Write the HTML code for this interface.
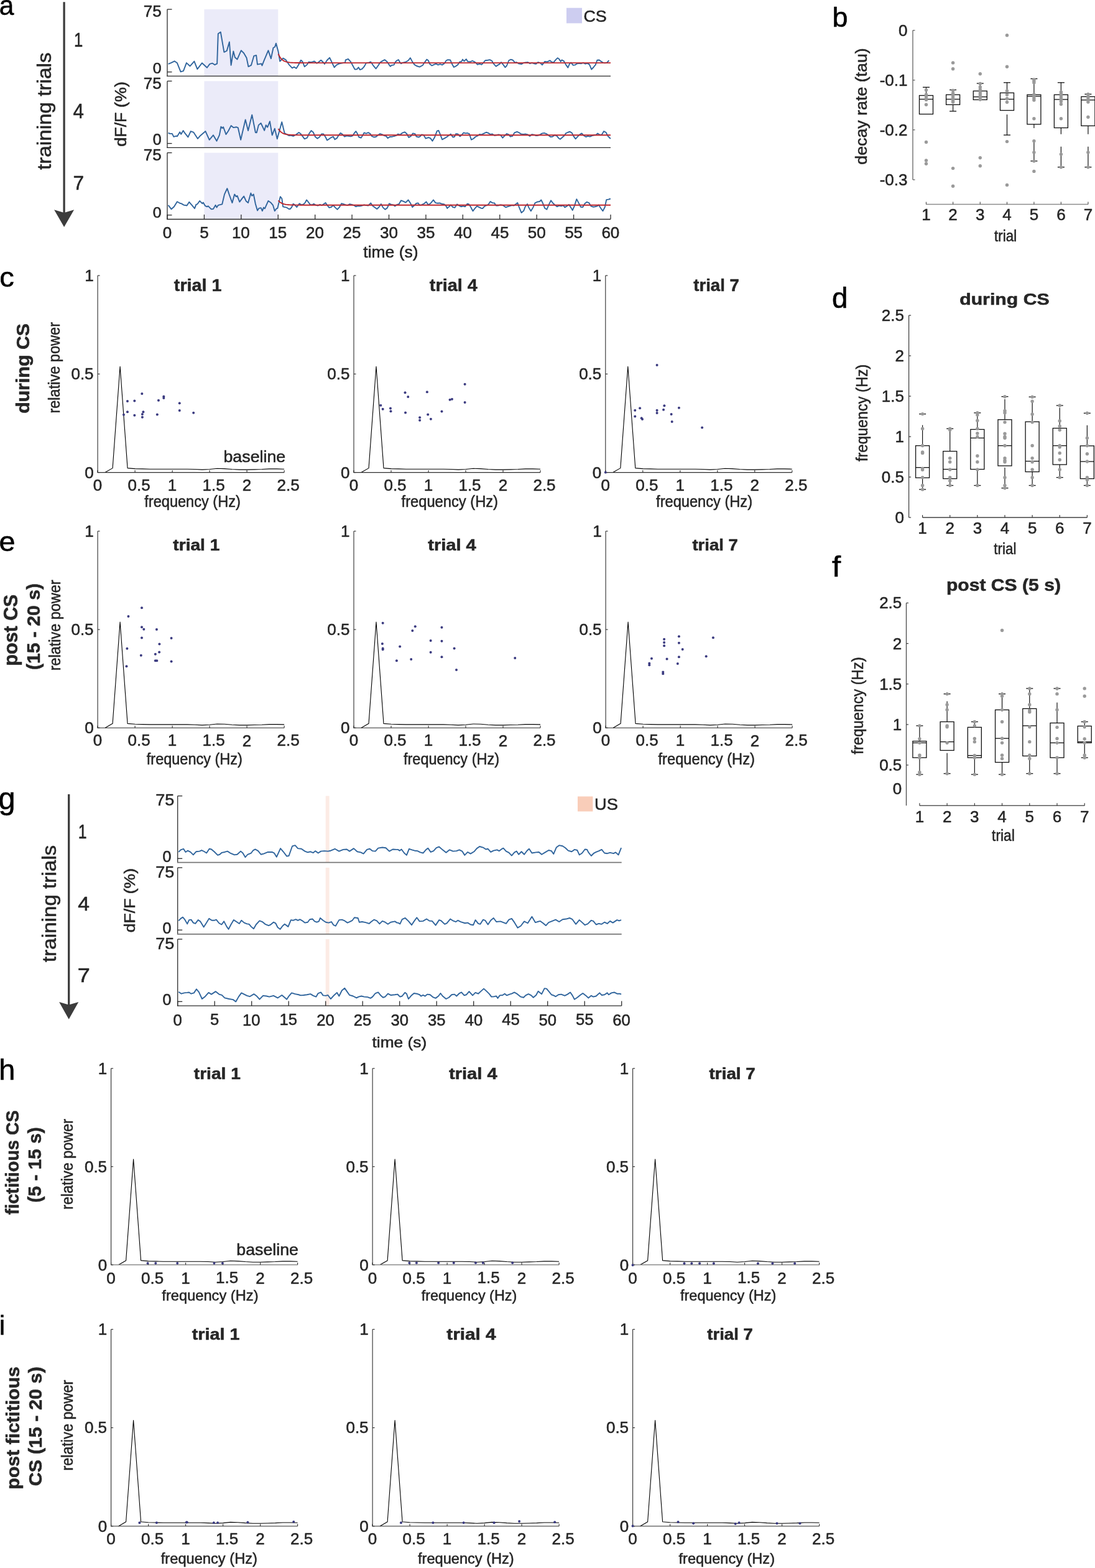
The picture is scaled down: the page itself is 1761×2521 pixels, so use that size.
<!DOCTYPE html>
<html><head><meta charset="utf-8"><title>figure</title>
<style>html,body{margin:0;padding:0;background:#fff;}svg{display:block;}</style></head>
<body><svg width="1761" height="2521" viewBox="0 0 1761 2521" font-family="'Liberation Sans', Arial, Helvetica, sans-serif">
<style>text{stroke-width:0.55px;stroke-linejoin:round;}</style>
<rect width="1761" height="2521" fill="#fff"/>
<text transform="translate(-1.3,24.46) scale(0.9451,1)" font-size="44.9" font-weight="normal" fill="#000" stroke="#000">a</text>
<line x1="103.1" y1="3.3" x2="103.1" y2="342.9" stroke="#3c3c3c" stroke-width="3.3" />
<polygon points="87.1,337.3 103.1,341.9 119.1,337.3 103.1,365" fill="#3c3c3c"/>
<text transform="translate(81.67,273.1) rotate(-90) scale(1.0737,1)" font-size="31" font-weight="normal" fill="#262626" stroke="#262626">training trials</text>
<text transform="translate(118.94,74.9) scale(0.8238,1)" font-size="31.25" font-weight="normal" fill="#262626" stroke="#262626">1</text>
<text transform="translate(117.48,189.9) scale(0.9298,1)" font-size="33.72" font-weight="normal" fill="#262626" stroke="#262626">4</text>
<text transform="translate(117.58,305) scale(1.0090,1)" font-size="31.4" font-weight="normal" fill="#262626" stroke="#262626">7</text>
<text transform="translate(202.77,235.73) rotate(-90) scale(1.0441,1)" font-size="25.76" font-weight="normal" fill="#262626" stroke="#262626">dF/F (%)</text>
<rect x="328.42" y="15" width="118.83" height="107.3" fill="#ebebf9" />
<rect x="328.42" y="130.4" width="118.83" height="107" fill="#ebebf9" />
<rect x="328.42" y="245.6" width="118.83" height="106.9" fill="#ebebf9" />
<polyline points="270.61,102.94 274.98,101.07 280.59,98.33 284.95,101.32 290.56,115.41 294.93,114.16 299.91,101.07 305.52,106.31 312.38,98.58 317.37,111.05 324.85,101.32 332.96,108.8 337.32,102.94 341.68,101.7 345.42,104.19 349.16,102.32 350.79,54.31 354.78,51.45 360.39,83.87 364.75,81.75 368.87,67.41 371.61,104.81 375.35,82.37 377.84,92.34 381.58,95.46 387.82,81.12 392.18,85.49 396.55,92.97 399.41,107.06 404.03,104.81 408.39,89.85 412.13,88.85 414,103.57 420.24,102.32 421.48,105.44 424.6,97.33 431.46,81.12 435.82,94.21 439.56,76.76 442.06,75.51 443.93,69.65 447.67,83.62 450.16,98.58 455.15,93.59 459.51,96.08 464.5,103.57 469.91,109.32 473.22,107.67 476.52,109.98 479.82,104.69 483.96,96.76 486.43,98.91 489.74,107.17 493.87,103.87 496.35,99.74 499.65,100.07 502.95,99.41 505.43,98.42 509.56,101.72 512.87,99.41 516.17,96.76 519.47,99.74 521.95,103.04 526.08,96.76 530.21,92.8 533.52,99.74 537.65,108.33 540.95,104.69 545.91,102.22 550.86,101.39 554.99,100.56 555.82,96.43 559.95,94.78 564.08,99.41 567.38,105.52 570.69,111.63 573.99,111.3 576.47,108.33 578.95,112.13 582.25,110.97 585.56,107.17 588.86,101.39 592.17,101.06 596.3,99.41 600.43,105.52 604.56,110.48 608.69,104.69 611.16,100.56 614.47,98.42 618.6,96.1 622.73,99.41 625.21,103.37 627.69,106.68 630.16,104.69 633.47,104.36 635.95,99.41 638.42,97.26 640.9,96.1 643.38,100.56 645.03,102.22 648.34,100.56 652.47,99.74 656.6,97.26 659.9,93.13 663.21,99.41 666.51,103.87 669.81,106.02 674.77,107.67 679.73,105.02 683.03,100.07 686.33,95.61 688.81,97.26 691.29,103.04 694.59,105.52 697.9,103.87 701.2,102.71 704.51,104.36 707.81,103.04 711.12,104.36 714.42,102.22 717.72,97.26 720.2,96.1 724.13,96.43 726.61,102.22 729.91,108 733.22,106.35 736.52,103.87 739,99.74 742.3,98.91 743.96,95.61 746.43,98.42 749.74,95.11 752.22,98.91 756.35,99.41 759.65,97.75 762.95,99.41 765.43,101.06 767.91,103.87 771.21,102.71 774.52,103.87 777,101.39 780.3,97.26 784.43,96.76 787.74,96.1 791.04,97.75 793.52,102.22 797.65,106.68 800.95,104.36 803.43,103.04 805.91,100.07 809.21,103.87 812.52,108.33 814.99,105.52 818.3,97.26 821.6,95.61 824.91,96.76 828.21,100.56 830.69,100.07 833.99,102.22 838.95,103.04 842.25,101.06 845.56,100.56 848.86,100.07 852.17,102.22 855.47,101.06 858.77,102.22 862.08,102.71 865.38,100.07 868.69,101.06 871.99,104.36 876.12,98.91 880.25,99.41 884.38,97.26 886.86,99.41 890.16,100.56 893.47,96.43 896.77,93.13 899.25,95.11 901.73,98.91 903.38,96.43 906.68,98.09 909.99,103.87 913.29,108.82 915.77,103.04 918.25,100.56 921.55,104.69 924.86,104.36 928.16,102.22 931.47,101.72 934.77,102.22 938.07,101.06 941.38,102.71 944.68,101.72 947.99,103.87 951.29,111.63 954.59,108 957.9,103.87 960.38,96.76 963.68,96.43 966.98,98.91 969.46,100.56 972.77,101.39 976.07,100.56 979.38,97.26" fill="none" stroke="#2f649c" stroke-width="1.9" stroke-linejoin="round" />
<polyline points="447.55,86.7 448.89,89.58 450.23,91.89 451.57,93.73 452.91,95.2 454.25,96.38 455.59,97.33 456.93,98.08 458.27,98.69 459.61,99.17 460.94,99.56 462.28,99.86 463.62,100.11 464.96,100.31 466.3,100.47 467.64,100.59 468.98,100.7 470.32,100.78 471.66,100.84 473,100.89 474.34,100.93 475.68,100.97 477.02,100.99 478.36,101.02 479.7,101.03 481.04,101.05 482.38,101.06 483.72,101.07 485.06,101.07 486.39,101.08 487.73,101.08 489.07,101.09 490.41,101.09 491.75,101.09 493.09,101.09 494.43,101.09 495.77,101.1 497.11,101.1 498.45,101.1 499.79,101.1 501.13,101.1 502.47,101.1 503.81,101.1 505.15,101.1 506.49,101.1 507.83,101.1 509.17,101.1 510.51,101.1 511.84,101.1 513.18,101.1 514.52,101.1 515.86,101.1 517.2,101.1 518.54,101.1 519.88,101.1 521.22,101.1 522.56,101.1 523.9,101.1 525.24,101.1 526.58,101.1 527.92,101.1 529.26,101.1 530.6,101.1 531.94,101.1 533.28,101.1 534.62,101.1 535.96,101.1 537.29,101.1 538.63,101.1 539.97,101.1 541.31,101.1 542.65,101.1 543.99,101.1 545.33,101.1 546.67,101.1 548.01,101.1 549.35,101.1 550.69,101.1 552.03,101.1 553.37,101.1 554.71,101.1 556.05,101.1 557.39,101.1 558.73,101.1 560.07,101.1 561.41,101.1 562.74,101.1 564.08,101.1 565.42,101.1 566.76,101.1 568.1,101.1 569.44,101.1 570.78,101.1 572.12,101.1 573.46,101.1 574.8,101.1 576.14,101.1 577.48,101.1 578.82,101.1 580.16,101.1 581.5,101.1 582.84,101.1 584.18,101.1 585.52,101.1 586.86,101.1 588.19,101.1 589.53,101.1 590.87,101.1 592.21,101.1 593.55,101.1 594.89,101.1 596.23,101.1 597.57,101.1 598.91,101.1 600.25,101.1 601.59,101.1 602.93,101.1 604.27,101.1 605.61,101.1 606.95,101.1 608.29,101.1 609.63,101.1 610.97,101.1 612.31,101.1 613.64,101.1 614.98,101.1 616.32,101.1 617.66,101.1 619,101.1 620.34,101.1 621.68,101.1 623.02,101.1 624.36,101.1 625.7,101.1 627.04,101.1 628.38,101.1 629.72,101.1 631.06,101.1 632.4,101.1 633.74,101.1 635.08,101.1 636.42,101.1 637.76,101.1 639.09,101.1 640.43,101.1 641.77,101.1 643.11,101.1 644.45,101.1 645.79,101.1 647.13,101.1 648.47,101.1 649.81,101.1 651.15,101.1 652.49,101.1 653.83,101.1 655.17,101.1 656.51,101.1 657.85,101.1 659.19,101.1 660.53,101.1 661.87,101.1 663.21,101.1 664.54,101.1 665.88,101.1 667.22,101.1 668.56,101.1 669.9,101.1 671.24,101.1 672.58,101.1 673.92,101.1 675.26,101.1 676.6,101.1 677.94,101.1 679.28,101.1 680.62,101.1 681.96,101.1 683.3,101.1 684.64,101.1 685.98,101.1 687.32,101.1 688.66,101.1 689.99,101.1 691.33,101.1 692.67,101.1 694.01,101.1 695.35,101.1 696.69,101.1 698.03,101.1 699.37,101.1 700.71,101.1 702.05,101.1 703.39,101.1 704.73,101.1 706.07,101.1 707.41,101.1 708.75,101.1 710.09,101.1 711.43,101.1 712.77,101.1 714.11,101.1 715.44,101.1 716.78,101.1 718.12,101.1 719.46,101.1 720.8,101.1 722.14,101.1 723.48,101.1 724.82,101.1 726.16,101.1 727.5,101.1 728.84,101.1 730.18,101.1 731.52,101.1 732.86,101.1 734.2,101.1 735.54,101.1 736.88,101.1 738.22,101.1 739.56,101.1 740.89,101.1 742.23,101.1 743.57,101.1 744.91,101.1 746.25,101.1 747.59,101.1 748.93,101.1 750.27,101.1 751.61,101.1 752.95,101.1 754.29,101.1 755.63,101.1 756.97,101.1 758.31,101.1 759.65,101.1 760.99,101.1 762.33,101.1 763.67,101.1 765.01,101.1 766.34,101.1 767.68,101.1 769.02,101.1 770.36,101.1 771.7,101.1 773.04,101.1 774.38,101.1 775.72,101.1 777.06,101.1 778.4,101.1 779.74,101.1 781.08,101.1 782.42,101.1 783.76,101.1 785.1,101.1 786.44,101.1 787.78,101.1 789.12,101.1 790.46,101.1 791.79,101.1 793.13,101.1 794.47,101.1 795.81,101.1 797.15,101.1 798.49,101.1 799.83,101.1 801.17,101.1 802.51,101.1 803.85,101.1 805.19,101.1 806.53,101.1 807.87,101.1 809.21,101.1 810.55,101.1 811.89,101.1 813.23,101.1 814.57,101.1 815.91,101.1 817.24,101.1 818.58,101.1 819.92,101.1 821.26,101.1 822.6,101.1 823.94,101.1 825.28,101.1 826.62,101.1 827.96,101.1 829.3,101.1 830.64,101.1 831.98,101.1 833.32,101.1 834.66,101.1 836,101.1 837.34,101.1 838.68,101.1 840.02,101.1 841.36,101.1 842.69,101.1 844.03,101.1 845.37,101.1 846.71,101.1 848.05,101.1 849.39,101.1 850.73,101.1 852.07,101.1 853.41,101.1 854.75,101.1 856.09,101.1 857.43,101.1 858.77,101.1 860.11,101.1 861.45,101.1 862.79,101.1 864.13,101.1 865.47,101.1 866.81,101.1 868.14,101.1 869.48,101.1 870.82,101.1 872.16,101.1 873.5,101.1 874.84,101.1 876.18,101.1 877.52,101.1 878.86,101.1 880.2,101.1 881.54,101.1 882.88,101.1 884.22,101.1 885.56,101.1 886.9,101.1 888.24,101.1 889.58,101.1 890.92,101.1 892.26,101.1 893.59,101.1 894.93,101.1 896.27,101.1 897.61,101.1 898.95,101.1 900.29,101.1 901.63,101.1 902.97,101.1 904.31,101.1 905.65,101.1 906.99,101.1 908.33,101.1 909.67,101.1 911.01,101.1 912.35,101.1 913.69,101.1 915.03,101.1 916.37,101.1 917.71,101.1 919.04,101.1 920.38,101.1 921.72,101.1 923.06,101.1 924.4,101.1 925.74,101.1 927.08,101.1 928.42,101.1 929.76,101.1 931.1,101.1 932.44,101.1 933.78,101.1 935.12,101.1 936.46,101.1 937.8,101.1 939.14,101.1 940.48,101.1 941.82,101.1 943.16,101.1 944.49,101.1 945.83,101.1 947.17,101.1 948.51,101.1 949.85,101.1 951.19,101.1 952.53,101.1 953.87,101.1 955.21,101.1 956.55,101.1 957.89,101.1 959.23,101.1 960.57,101.1 961.91,101.1 963.25,101.1 964.59,101.1 965.93,101.1 967.27,101.1 968.61,101.1 969.94,101.1 971.28,101.1 972.62,101.1 973.96,101.1 975.3,101.1 976.64,101.1 977.98,101.1 979.32,101.1 980.66,101.1 982,101.1" fill="none" stroke="#c0272d" stroke-width="1.9" stroke-linejoin="round" />
<line x1="269" y1="15" x2="269" y2="122.9" stroke="#2b2b2b" stroke-width="1.3" />
<line x1="268.4" y1="122.3" x2="982" y2="122.3" stroke="#2b2b2b" stroke-width="1.3" />
<line x1="269" y1="15" x2="276.5" y2="15" stroke="#2b2b2b" stroke-width="1.3" />
<line x1="269" y1="115.7" x2="276.5" y2="115.7" stroke="#2b2b2b" stroke-width="1.3" />
<text transform="translate(230.67,26.66) scale(1.0428,1)" font-size="24.94" font-weight="normal" fill="#262626" stroke="#262626">75</text>
<text transform="translate(245.63,117.66) scale(1.0072,1)" font-size="24.72" font-weight="normal" fill="#262626" stroke="#262626">0</text>
<polyline points="270.61,213.58 273.1,214.83 276.85,214.83 279.34,219.81 283.7,218.57 284.95,219.19 289.31,212.33 291.18,215.82 294.68,210.09 297.42,214.2 302.41,220.44 306.77,211.08 311.13,212.58 317.99,222.93 322.36,217.94 330.46,211.08 336.7,224.8 342.93,217.32 348.54,226.67 352.91,217.07 355.4,203.6 357.52,206.1 359.14,204.23 363.5,216.07 367.24,210.46 371.61,202.11 375.35,205.1 380.34,204.23 382.83,205.47 387.19,224.8 394.68,192.38 399.04,210.09 405.27,184.65 410.89,212.96 412.76,213.33 415.87,201.11 419.61,197.99 425.22,209.84 427.72,201.11 430.21,204.6 433.95,195.12 437.69,217.32 441.81,206.72 445.8,223.3 449.54,209.84 453.28,196.12 457.64,214.2 464.5,217.94 467.43,217.71 471.56,218.87 475.69,216.72 480.65,213.09 483.96,215.56 486.43,218.87 489.74,223.33 493.87,221.68 497.17,214.74 500.48,210.11 503.78,212.75 507.08,220.02 510.39,222.67 513.69,220.52 517,215.56 520.3,215.56 523.6,220.52 526.08,225.48 529.39,223.33 532.69,221.02 536,219.69 538.47,224.32 541.78,222.17 544.26,218.04 547.56,213.91 550.86,216.06 554.17,219.69 557.47,218.37 560.78,218.87 564.08,219.36 567.38,218.04 569.86,213.91 572.34,211.1 574.82,215.07 577.3,220.52 580.6,221.68 583.08,218.04 585.56,213.42 588.86,214.74 592.17,213.09 595.47,215.07 597.95,218.87 601.25,220.52 604.56,220.02 607.86,217.22 611.16,215.07 614.47,216.06 617.77,218.04 621.08,218.87 623.56,222.17 626.86,220.02 630.99,219.69 634.29,218.87 637.6,217.71 640.08,215.56 643.38,216.72 646.68,213.91 650.81,212.26 654.12,215.07 657.42,221.02 660.73,218.87 664.03,214.41 667.34,215.07 669.81,219.69 673.12,220.52 675.6,219.36 678.07,216.39 681.38,217.22 684.68,222.67 688.81,221.02 692.12,222.17 695.42,226.63 698.72,221.35 702.85,210.61 705.33,209.78 707.81,215.56 711.12,224.32 715.25,222.17 719.38,219.69 720,218.87 722.48,217.22 724.96,215.56 728.26,220.52 730.74,220.02 733.22,215.07 736.52,215.56 739.82,219.36 743.13,216.06 745.61,213.42 748.91,214.41 751.39,213.91 754.69,215.07 758,224.65 761.3,223 764.61,220.02 767.91,218.37 771.21,216.06 774.52,216.39 778.65,214.41 781.95,212.75 785.26,213.91 788.56,216.06 791.87,215.56 795.17,217.71 798.47,217.22 801.78,216.39 805.08,217.22 808.39,221.68 811.69,218.04 814.99,215.07 818.3,216.39 820.78,219.69 824.08,218.87 827.38,213.42 831.51,211.76 834.82,213.42 838.12,215.56 841.43,216.06 845.56,215.56 848.86,216.39 852.17,218.87 855.47,216.06 858.77,216.72 862.08,218.04 865.38,217.71 868.69,216.39 871.99,214.41 875.29,213.91 878.6,215.07 881.9,217.22 885.21,220.02 888.51,219.69 891.82,217.22 895.12,218.04 898.42,222.17 900.9,223.82 904.21,221.02 907.51,218.04 909.99,214.41 913.29,212.75 916.6,211.76 919.9,213.91 922.38,218.87 925.68,223.33 928.99,219.69 932.29,216.39 935.6,214.41 938.9,218.04 942.2,220.02 945.51,218.87 948.81,219.69 952.12,218.04 955.42,217.22 958.72,216.72 961.2,214.41 964.51,216.72 967.81,216.39 971.12,211.1 974.42,212.75 977.72,218.87 981.85,223" fill="none" stroke="#2f649c" stroke-width="1.9" stroke-linejoin="round" />
<polyline points="447.55,207 448.89,209.04 450.23,210.67 451.57,211.98 452.91,213.02 454.25,213.86 455.59,214.53 456.93,215.06 458.27,215.49 459.61,215.83 460.94,216.11 462.28,216.32 463.62,216.5 464.96,216.64 466.3,216.75 467.64,216.84 468.98,216.91 470.32,216.97 471.66,217.02 473,217.05 474.34,217.08 475.68,217.11 477.02,217.12 478.36,217.14 479.7,217.15 481.04,217.16 482.38,217.17 483.72,217.18 485.06,217.18 486.39,217.18 487.73,217.19 489.07,217.19 490.41,217.19 491.75,217.19 493.09,217.19 494.43,217.2 495.77,217.2 497.11,217.2 498.45,217.2 499.79,217.2 501.13,217.2 502.47,217.2 503.81,217.2 505.15,217.2 506.49,217.2 507.83,217.2 509.17,217.2 510.51,217.2 511.84,217.2 513.18,217.2 514.52,217.2 515.86,217.2 517.2,217.2 518.54,217.2 519.88,217.2 521.22,217.2 522.56,217.2 523.9,217.2 525.24,217.2 526.58,217.2 527.92,217.2 529.26,217.2 530.6,217.2 531.94,217.2 533.28,217.2 534.62,217.2 535.96,217.2 537.29,217.2 538.63,217.2 539.97,217.2 541.31,217.2 542.65,217.2 543.99,217.2 545.33,217.2 546.67,217.2 548.01,217.2 549.35,217.2 550.69,217.2 552.03,217.2 553.37,217.2 554.71,217.2 556.05,217.2 557.39,217.2 558.73,217.2 560.07,217.2 561.41,217.2 562.74,217.2 564.08,217.2 565.42,217.2 566.76,217.2 568.1,217.2 569.44,217.2 570.78,217.2 572.12,217.2 573.46,217.2 574.8,217.2 576.14,217.2 577.48,217.2 578.82,217.2 580.16,217.2 581.5,217.2 582.84,217.2 584.18,217.2 585.52,217.2 586.86,217.2 588.19,217.2 589.53,217.2 590.87,217.2 592.21,217.2 593.55,217.2 594.89,217.2 596.23,217.2 597.57,217.2 598.91,217.2 600.25,217.2 601.59,217.2 602.93,217.2 604.27,217.2 605.61,217.2 606.95,217.2 608.29,217.2 609.63,217.2 610.97,217.2 612.31,217.2 613.64,217.2 614.98,217.2 616.32,217.2 617.66,217.2 619,217.2 620.34,217.2 621.68,217.2 623.02,217.2 624.36,217.2 625.7,217.2 627.04,217.2 628.38,217.2 629.72,217.2 631.06,217.2 632.4,217.2 633.74,217.2 635.08,217.2 636.42,217.2 637.76,217.2 639.09,217.2 640.43,217.2 641.77,217.2 643.11,217.2 644.45,217.2 645.79,217.2 647.13,217.2 648.47,217.2 649.81,217.2 651.15,217.2 652.49,217.2 653.83,217.2 655.17,217.2 656.51,217.2 657.85,217.2 659.19,217.2 660.53,217.2 661.87,217.2 663.21,217.2 664.54,217.2 665.88,217.2 667.22,217.2 668.56,217.2 669.9,217.2 671.24,217.2 672.58,217.2 673.92,217.2 675.26,217.2 676.6,217.2 677.94,217.2 679.28,217.2 680.62,217.2 681.96,217.2 683.3,217.2 684.64,217.2 685.98,217.2 687.32,217.2 688.66,217.2 689.99,217.2 691.33,217.2 692.67,217.2 694.01,217.2 695.35,217.2 696.69,217.2 698.03,217.2 699.37,217.2 700.71,217.2 702.05,217.2 703.39,217.2 704.73,217.2 706.07,217.2 707.41,217.2 708.75,217.2 710.09,217.2 711.43,217.2 712.77,217.2 714.11,217.2 715.44,217.2 716.78,217.2 718.12,217.2 719.46,217.2 720.8,217.2 722.14,217.2 723.48,217.2 724.82,217.2 726.16,217.2 727.5,217.2 728.84,217.2 730.18,217.2 731.52,217.2 732.86,217.2 734.2,217.2 735.54,217.2 736.88,217.2 738.22,217.2 739.56,217.2 740.89,217.2 742.23,217.2 743.57,217.2 744.91,217.2 746.25,217.2 747.59,217.2 748.93,217.2 750.27,217.2 751.61,217.2 752.95,217.2 754.29,217.2 755.63,217.2 756.97,217.2 758.31,217.2 759.65,217.2 760.99,217.2 762.33,217.2 763.67,217.2 765.01,217.2 766.34,217.2 767.68,217.2 769.02,217.2 770.36,217.2 771.7,217.2 773.04,217.2 774.38,217.2 775.72,217.2 777.06,217.2 778.4,217.2 779.74,217.2 781.08,217.2 782.42,217.2 783.76,217.2 785.1,217.2 786.44,217.2 787.78,217.2 789.12,217.2 790.46,217.2 791.79,217.2 793.13,217.2 794.47,217.2 795.81,217.2 797.15,217.2 798.49,217.2 799.83,217.2 801.17,217.2 802.51,217.2 803.85,217.2 805.19,217.2 806.53,217.2 807.87,217.2 809.21,217.2 810.55,217.2 811.89,217.2 813.23,217.2 814.57,217.2 815.91,217.2 817.24,217.2 818.58,217.2 819.92,217.2 821.26,217.2 822.6,217.2 823.94,217.2 825.28,217.2 826.62,217.2 827.96,217.2 829.3,217.2 830.64,217.2 831.98,217.2 833.32,217.2 834.66,217.2 836,217.2 837.34,217.2 838.68,217.2 840.02,217.2 841.36,217.2 842.69,217.2 844.03,217.2 845.37,217.2 846.71,217.2 848.05,217.2 849.39,217.2 850.73,217.2 852.07,217.2 853.41,217.2 854.75,217.2 856.09,217.2 857.43,217.2 858.77,217.2 860.11,217.2 861.45,217.2 862.79,217.2 864.13,217.2 865.47,217.2 866.81,217.2 868.14,217.2 869.48,217.2 870.82,217.2 872.16,217.2 873.5,217.2 874.84,217.2 876.18,217.2 877.52,217.2 878.86,217.2 880.2,217.2 881.54,217.2 882.88,217.2 884.22,217.2 885.56,217.2 886.9,217.2 888.24,217.2 889.58,217.2 890.92,217.2 892.26,217.2 893.59,217.2 894.93,217.2 896.27,217.2 897.61,217.2 898.95,217.2 900.29,217.2 901.63,217.2 902.97,217.2 904.31,217.2 905.65,217.2 906.99,217.2 908.33,217.2 909.67,217.2 911.01,217.2 912.35,217.2 913.69,217.2 915.03,217.2 916.37,217.2 917.71,217.2 919.04,217.2 920.38,217.2 921.72,217.2 923.06,217.2 924.4,217.2 925.74,217.2 927.08,217.2 928.42,217.2 929.76,217.2 931.1,217.2 932.44,217.2 933.78,217.2 935.12,217.2 936.46,217.2 937.8,217.2 939.14,217.2 940.48,217.2 941.82,217.2 943.16,217.2 944.49,217.2 945.83,217.2 947.17,217.2 948.51,217.2 949.85,217.2 951.19,217.2 952.53,217.2 953.87,217.2 955.21,217.2 956.55,217.2 957.89,217.2 959.23,217.2 960.57,217.2 961.91,217.2 963.25,217.2 964.59,217.2 965.93,217.2 967.27,217.2 968.61,217.2 969.94,217.2 971.28,217.2 972.62,217.2 973.96,217.2 975.3,217.2 976.64,217.2 977.98,217.2 979.32,217.2 980.66,217.2 982,217.2" fill="none" stroke="#c0272d" stroke-width="1.9" stroke-linejoin="round" />
<line x1="269" y1="130.4" x2="269" y2="238" stroke="#2b2b2b" stroke-width="1.3" />
<line x1="268.4" y1="237.4" x2="982" y2="237.4" stroke="#2b2b2b" stroke-width="1.3" />
<line x1="269" y1="130.4" x2="276.5" y2="130.4" stroke="#2b2b2b" stroke-width="1.3" />
<line x1="269" y1="230.6" x2="276.5" y2="230.6" stroke="#2b2b2b" stroke-width="1.3" />
<text transform="translate(230.67,142.56) scale(1.0428,1)" font-size="24.94" font-weight="normal" fill="#262626" stroke="#262626">75</text>
<text transform="translate(245.63,232.76) scale(1.0014,1)" font-size="24.86" font-weight="normal" fill="#262626" stroke="#262626">0</text>
<polyline points="270.61,329.83 275.6,336.31 279.96,332.32 284.95,324.21 289.31,326.71 291.81,327.33 295.55,329.58 300.54,330.45 304.28,324.84 308.64,329.83 313,335.19 315.5,328.58 317.37,328.33 321.11,322.97 325.47,327.33 326.72,325.46 329.84,330.82 332.96,332.32 334.83,331.32 339.81,336.31 342.93,336.06 346.67,329.83 348.54,333.57 351.03,329.83 357.27,328.33 361.01,312.37 365.37,303.02 368.49,312.37 373.48,326.08 377.22,312.37 379.71,316.11 381.58,314.86 385.32,324.59 389.69,318.6 392.18,315.49 395.92,323.59 399.04,326.08 403.4,310.5 405.27,314.86 407.77,312.37 410.89,327.96 414,338.55 416.5,334.81 419.61,334.19 421.86,339.18 423.98,333.57 425.85,335.44 431.46,322.97 435.82,326.08 438.94,329.83 441.81,339.18 444.55,335.44 446.42,334.81 450.79,316.11 453.28,319.23 455.15,332.32 460.76,333.57 464.5,336.06 466.61,336.02 469.09,333.04 471.56,327.75 474.04,329.41 477.35,333.04 481.48,327.26 484.78,329.41 488.09,328.42 490.56,326.1 493.04,321.48 495.52,324.45 498.82,328.91 502.13,329.41 504.61,327.75 507.91,329.74 511.21,330.56 514.52,328.91 517.82,330.07 521.13,327.75 523.6,326.1 526.08,329.74 529.39,333.87 532.69,333.04 536,330.07 539.3,333.87 542.6,336.68 545.91,333.04 549.21,327.26 552.52,328.09 555.82,329.41 559.12,330.07 562.43,328.09 565.73,328.91 569.04,330.07 572.34,332.22 575.65,331.06 578.95,331.39 582.25,330.56 585.56,329.41 588.86,330.07 592.17,330.56 596.3,326.43 598.77,330.56 602.08,333.04 606.21,336.02 609.51,333.04 612.82,328.09 616.12,333.87 619.43,336.68 622.73,334.36 626.03,327.26 629.34,328.91 632.64,329.41 635.12,331.39 638.42,328.91 641.73,328.09 645.03,322.3 649.16,323.96 652.47,325.61 656.6,321.48 659.9,326.43 663.21,333.04 666.51,330.07 668.99,327.26 672.29,326.43 674.77,329.74 678.07,329.41 682.2,327.26 685.51,324.45 688.81,329.41 692.94,326.43 697.07,321.48 700.38,326.1 703.68,326.76 706.98,326.43 710.29,327.75 714.42,328.42 716.9,330.56 719.38,335.02 720,333.87 722.48,332.22 724.96,329.41 728.26,333.04 731.56,333.87 734.87,328.42 738.17,330.56 741.48,332.22 744.78,331.39 748.09,332.22 751.39,327.75 753.87,328.09 757.17,333.04 760.48,339.32 763.78,335.02 767.08,331.39 770.39,333.04 773.69,334.69 776.17,335.02 779.47,331.39 782.78,330.07 785.26,328.91 788.56,323.96 791.87,326.1 795.17,326.43 797.65,330.56 800.95,330.56 804.26,329.41 807.56,329.74 810.86,331.39 813.34,333.37 816.65,332.22 819.95,331.06 823.25,330.07 826.56,330.56 829.86,328.09 832.34,326.1 834.82,333.04 838.62,342.13 842.25,338.82 844.73,332.22 848.04,328.09 850.51,333.87 853.82,339.32 857.12,333.87 860.43,326.43 864.56,324.45 867.86,323.96 870.34,321.48 872.82,326.43 876.12,334.69 879.43,336.68 882.73,328.91 886.03,322.3 889.34,326.76 892.64,329.74 895.95,332.22 899.25,330.56 902.55,331.39 905.86,330.07 908.34,333.37 911.64,331.39 914.94,328.91 918.25,333.87 920.73,338 924.03,330.56 927.34,320.16 930.64,326.43 933.94,332.71 937.25,333.04 940.55,327.26 943.86,324.78 947.16,326.1 950.46,331.39 953.77,332.71 957.07,332.22 960.38,331.39 962.85,329.41 966.16,334.69 969.46,339.32 972.77,333.04 975.25,321.15 978.55,320.65 981.85,319.49" fill="none" stroke="#2f649c" stroke-width="1.9" stroke-linejoin="round" />
<polyline points="447.55,322.3 448.89,323.78 450.23,324.96 451.57,325.91 452.91,326.67 454.25,327.28 455.59,327.76 456.93,328.15 458.27,328.46 459.61,328.71 460.94,328.91 462.28,329.07 463.62,329.19 464.96,329.29 466.3,329.38 467.64,329.44 468.98,329.49 470.32,329.53 471.66,329.57 473,329.59 474.34,329.61 475.68,329.63 477.02,329.65 478.36,329.66 479.7,329.67 481.04,329.67 482.38,329.68 483.72,329.68 485.06,329.69 486.39,329.69 487.73,329.69 489.07,329.69 490.41,329.69 491.75,329.7 493.09,329.7 494.43,329.7 495.77,329.7 497.11,329.7 498.45,329.7 499.79,329.7 501.13,329.7 502.47,329.7 503.81,329.7 505.15,329.7 506.49,329.7 507.83,329.7 509.17,329.7 510.51,329.7 511.84,329.7 513.18,329.7 514.52,329.7 515.86,329.7 517.2,329.7 518.54,329.7 519.88,329.7 521.22,329.7 522.56,329.7 523.9,329.7 525.24,329.7 526.58,329.7 527.92,329.7 529.26,329.7 530.6,329.7 531.94,329.7 533.28,329.7 534.62,329.7 535.96,329.7 537.29,329.7 538.63,329.7 539.97,329.7 541.31,329.7 542.65,329.7 543.99,329.7 545.33,329.7 546.67,329.7 548.01,329.7 549.35,329.7 550.69,329.7 552.03,329.7 553.37,329.7 554.71,329.7 556.05,329.7 557.39,329.7 558.73,329.7 560.07,329.7 561.41,329.7 562.74,329.7 564.08,329.7 565.42,329.7 566.76,329.7 568.1,329.7 569.44,329.7 570.78,329.7 572.12,329.7 573.46,329.7 574.8,329.7 576.14,329.7 577.48,329.7 578.82,329.7 580.16,329.7 581.5,329.7 582.84,329.7 584.18,329.7 585.52,329.7 586.86,329.7 588.19,329.7 589.53,329.7 590.87,329.7 592.21,329.7 593.55,329.7 594.89,329.7 596.23,329.7 597.57,329.7 598.91,329.7 600.25,329.7 601.59,329.7 602.93,329.7 604.27,329.7 605.61,329.7 606.95,329.7 608.29,329.7 609.63,329.7 610.97,329.7 612.31,329.7 613.64,329.7 614.98,329.7 616.32,329.7 617.66,329.7 619,329.7 620.34,329.7 621.68,329.7 623.02,329.7 624.36,329.7 625.7,329.7 627.04,329.7 628.38,329.7 629.72,329.7 631.06,329.7 632.4,329.7 633.74,329.7 635.08,329.7 636.42,329.7 637.76,329.7 639.09,329.7 640.43,329.7 641.77,329.7 643.11,329.7 644.45,329.7 645.79,329.7 647.13,329.7 648.47,329.7 649.81,329.7 651.15,329.7 652.49,329.7 653.83,329.7 655.17,329.7 656.51,329.7 657.85,329.7 659.19,329.7 660.53,329.7 661.87,329.7 663.21,329.7 664.54,329.7 665.88,329.7 667.22,329.7 668.56,329.7 669.9,329.7 671.24,329.7 672.58,329.7 673.92,329.7 675.26,329.7 676.6,329.7 677.94,329.7 679.28,329.7 680.62,329.7 681.96,329.7 683.3,329.7 684.64,329.7 685.98,329.7 687.32,329.7 688.66,329.7 689.99,329.7 691.33,329.7 692.67,329.7 694.01,329.7 695.35,329.7 696.69,329.7 698.03,329.7 699.37,329.7 700.71,329.7 702.05,329.7 703.39,329.7 704.73,329.7 706.07,329.7 707.41,329.7 708.75,329.7 710.09,329.7 711.43,329.7 712.77,329.7 714.11,329.7 715.44,329.7 716.78,329.7 718.12,329.7 719.46,329.7 720.8,329.7 722.14,329.7 723.48,329.7 724.82,329.7 726.16,329.7 727.5,329.7 728.84,329.7 730.18,329.7 731.52,329.7 732.86,329.7 734.2,329.7 735.54,329.7 736.88,329.7 738.22,329.7 739.56,329.7 740.89,329.7 742.23,329.7 743.57,329.7 744.91,329.7 746.25,329.7 747.59,329.7 748.93,329.7 750.27,329.7 751.61,329.7 752.95,329.7 754.29,329.7 755.63,329.7 756.97,329.7 758.31,329.7 759.65,329.7 760.99,329.7 762.33,329.7 763.67,329.7 765.01,329.7 766.34,329.7 767.68,329.7 769.02,329.7 770.36,329.7 771.7,329.7 773.04,329.7 774.38,329.7 775.72,329.7 777.06,329.7 778.4,329.7 779.74,329.7 781.08,329.7 782.42,329.7 783.76,329.7 785.1,329.7 786.44,329.7 787.78,329.7 789.12,329.7 790.46,329.7 791.79,329.7 793.13,329.7 794.47,329.7 795.81,329.7 797.15,329.7 798.49,329.7 799.83,329.7 801.17,329.7 802.51,329.7 803.85,329.7 805.19,329.7 806.53,329.7 807.87,329.7 809.21,329.7 810.55,329.7 811.89,329.7 813.23,329.7 814.57,329.7 815.91,329.7 817.24,329.7 818.58,329.7 819.92,329.7 821.26,329.7 822.6,329.7 823.94,329.7 825.28,329.7 826.62,329.7 827.96,329.7 829.3,329.7 830.64,329.7 831.98,329.7 833.32,329.7 834.66,329.7 836,329.7 837.34,329.7 838.68,329.7 840.02,329.7 841.36,329.7 842.69,329.7 844.03,329.7 845.37,329.7 846.71,329.7 848.05,329.7 849.39,329.7 850.73,329.7 852.07,329.7 853.41,329.7 854.75,329.7 856.09,329.7 857.43,329.7 858.77,329.7 860.11,329.7 861.45,329.7 862.79,329.7 864.13,329.7 865.47,329.7 866.81,329.7 868.14,329.7 869.48,329.7 870.82,329.7 872.16,329.7 873.5,329.7 874.84,329.7 876.18,329.7 877.52,329.7 878.86,329.7 880.2,329.7 881.54,329.7 882.88,329.7 884.22,329.7 885.56,329.7 886.9,329.7 888.24,329.7 889.58,329.7 890.92,329.7 892.26,329.7 893.59,329.7 894.93,329.7 896.27,329.7 897.61,329.7 898.95,329.7 900.29,329.7 901.63,329.7 902.97,329.7 904.31,329.7 905.65,329.7 906.99,329.7 908.33,329.7 909.67,329.7 911.01,329.7 912.35,329.7 913.69,329.7 915.03,329.7 916.37,329.7 917.71,329.7 919.04,329.7 920.38,329.7 921.72,329.7 923.06,329.7 924.4,329.7 925.74,329.7 927.08,329.7 928.42,329.7 929.76,329.7 931.1,329.7 932.44,329.7 933.78,329.7 935.12,329.7 936.46,329.7 937.8,329.7 939.14,329.7 940.48,329.7 941.82,329.7 943.16,329.7 944.49,329.7 945.83,329.7 947.17,329.7 948.51,329.7 949.85,329.7 951.19,329.7 952.53,329.7 953.87,329.7 955.21,329.7 956.55,329.7 957.89,329.7 959.23,329.7 960.57,329.7 961.91,329.7 963.25,329.7 964.59,329.7 965.93,329.7 967.27,329.7 968.61,329.7 969.94,329.7 971.28,329.7 972.62,329.7 973.96,329.7 975.3,329.7 976.64,329.7 977.98,329.7 979.32,329.7 980.66,329.7 982,329.7" fill="none" stroke="#c0272d" stroke-width="1.9" stroke-linejoin="round" />
<line x1="269" y1="245.6" x2="269" y2="353.1" stroke="#2b2b2b" stroke-width="1.3" />
<line x1="268.4" y1="352.5" x2="982" y2="352.5" stroke="#2b2b2b" stroke-width="1.3" />
<line x1="269" y1="245.6" x2="276.5" y2="245.6" stroke="#2b2b2b" stroke-width="1.3" />
<line x1="269" y1="345.8" x2="276.5" y2="345.8" stroke="#2b2b2b" stroke-width="1.3" />
<text transform="translate(230.67,257.56) scale(1.0428,1)" font-size="24.94" font-weight="normal" fill="#262626" stroke="#262626">75</text>
<text transform="translate(245.63,350.26) scale(1.0129,1)" font-size="24.58" font-weight="normal" fill="#262626" stroke="#262626">0</text>
<line x1="269" y1="352.5" x2="269" y2="345" stroke="#2b2b2b" stroke-width="1.3" />
<text x="261.77" y="383.45" font-size="26" font-weight="normal" fill="#262626" stroke="#262626">0</text>
<line x1="328.42" y1="352.5" x2="328.42" y2="345" stroke="#2b2b2b" stroke-width="1.3" />
<text x="321.21" y="383.32" font-size="26" font-weight="normal" fill="#262626" stroke="#262626">5</text>
<line x1="387.83" y1="352.5" x2="387.83" y2="345" stroke="#2b2b2b" stroke-width="1.3" />
<text x="372.89" y="383.45" font-size="26" font-weight="normal" fill="#262626" stroke="#262626">10</text>
<line x1="447.25" y1="352.5" x2="447.25" y2="345" stroke="#2b2b2b" stroke-width="1.3" />
<text x="432.35" y="383.32" font-size="26" font-weight="normal" fill="#262626" stroke="#262626">15</text>
<line x1="506.67" y1="352.5" x2="506.67" y2="345" stroke="#2b2b2b" stroke-width="1.3" />
<text x="492.06" y="383.45" font-size="26" font-weight="normal" fill="#262626" stroke="#262626">20</text>
<line x1="566.08" y1="352.5" x2="566.08" y2="345" stroke="#2b2b2b" stroke-width="1.3" />
<text x="551.52" y="383.45" font-size="26" font-weight="normal" fill="#262626" stroke="#262626">25</text>
<line x1="625.5" y1="352.5" x2="625.5" y2="345" stroke="#2b2b2b" stroke-width="1.3" />
<text x="611.05" y="383.45" font-size="26" font-weight="normal" fill="#262626" stroke="#262626">30</text>
<line x1="684.92" y1="352.5" x2="684.92" y2="345" stroke="#2b2b2b" stroke-width="1.3" />
<text x="670.51" y="383.45" font-size="26" font-weight="normal" fill="#262626" stroke="#262626">35</text>
<line x1="744.33" y1="352.5" x2="744.33" y2="345" stroke="#2b2b2b" stroke-width="1.3" />
<text x="730.08" y="383.45" font-size="26" font-weight="normal" fill="#262626" stroke="#262626">40</text>
<line x1="803.75" y1="352.5" x2="803.75" y2="345" stroke="#2b2b2b" stroke-width="1.3" />
<text x="789.54" y="383.32" font-size="26" font-weight="normal" fill="#262626" stroke="#262626">45</text>
<line x1="863.17" y1="352.5" x2="863.17" y2="345" stroke="#2b2b2b" stroke-width="1.3" />
<text x="848.69" y="383.45" font-size="26" font-weight="normal" fill="#262626" stroke="#262626">50</text>
<line x1="922.58" y1="352.5" x2="922.58" y2="345" stroke="#2b2b2b" stroke-width="1.3" />
<text x="908.15" y="383.32" font-size="26" font-weight="normal" fill="#262626" stroke="#262626">55</text>
<line x1="982" y1="352.5" x2="982" y2="345" stroke="#2b2b2b" stroke-width="1.3" />
<text x="967.39" y="383.45" font-size="26" font-weight="normal" fill="#262626" stroke="#262626">60</text>
<text transform="translate(584.3,414.44) scale(1.0632,1)" font-size="24.9" font-weight="normal" fill="#262626" stroke="#262626">time (s)</text>
<rect x="911" y="12.7" width="25" height="24.7" fill="#cdcdf0" />
<text transform="translate(938.43,34.84) scale(1.0194,1)" font-size="26.41" font-weight="normal" fill="#262626" stroke="#262626">CS</text>
<text transform="translate(1338.5,42.56) scale(1.0057,1)" font-size="44.66" font-weight="normal" fill="#000" stroke="#000">b</text>
<text transform="translate(1393.98,264.72) rotate(-90) scale(1.0446,1)" font-size="25.64" font-weight="normal" fill="#262626" stroke="#262626">decay rate (tau)</text>
<line x1="1468" y1="48.8" x2="1468" y2="289" stroke="#555" stroke-width="1.2" />
<line x1="1468" y1="48.8" x2="1471.5" y2="48.8" stroke="#555" stroke-width="1.2" />
<line x1="1468" y1="128.9" x2="1471.5" y2="128.9" stroke="#555" stroke-width="1.2" />
<line x1="1468" y1="208.8" x2="1471.5" y2="208.8" stroke="#555" stroke-width="1.2" />
<line x1="1468" y1="289" x2="1471.5" y2="289" stroke="#555" stroke-width="1.2" />
<text x="1459.5" y="58.45" font-size="26" text-anchor="end" fill="#262626" stroke="#262626">0</text>
<text x="1459.5" y="137.65" font-size="26" text-anchor="end" fill="#262626" stroke="#262626">-0.1</text>
<text x="1459.5" y="217.95" font-size="26" text-anchor="end" fill="#262626" stroke="#262626">-0.2</text>
<text x="1459.5" y="298.25" font-size="26" text-anchor="end" fill="#262626" stroke="#262626">-0.3</text>
<line x1="1489.5" y1="328.6" x2="1749.9" y2="328.6" stroke="#8c8c8c" stroke-width="1.5" />
<line x1="1489.5" y1="328.6" x2="1489.5" y2="324.6" stroke="#555" stroke-width="1.2" />
<text x="1489.5" y="354.24" font-size="26" text-anchor="middle" fill="#262626" stroke="#262626">1</text>
<line x1="1532.6" y1="328.6" x2="1532.6" y2="324.6" stroke="#555" stroke-width="1.2" />
<text x="1532.6" y="354.38" font-size="26" text-anchor="middle" fill="#262626" stroke="#262626">2</text>
<line x1="1576.3" y1="328.6" x2="1576.3" y2="324.6" stroke="#555" stroke-width="1.2" />
<text x="1576.3" y="354.25" font-size="26" text-anchor="middle" fill="#262626" stroke="#262626">3</text>
<line x1="1619.5" y1="328.6" x2="1619.5" y2="324.6" stroke="#555" stroke-width="1.2" />
<text x="1619.5" y="354.24" font-size="26" text-anchor="middle" fill="#262626" stroke="#262626">4</text>
<line x1="1662.9" y1="328.6" x2="1662.9" y2="324.6" stroke="#555" stroke-width="1.2" />
<text x="1662.9" y="354.12" font-size="26" text-anchor="middle" fill="#262626" stroke="#262626">5</text>
<line x1="1706.4" y1="328.6" x2="1706.4" y2="324.6" stroke="#555" stroke-width="1.2" />
<text x="1706.4" y="354.25" font-size="26" text-anchor="middle" fill="#262626" stroke="#262626">6</text>
<line x1="1749.9" y1="328.6" x2="1749.9" y2="324.6" stroke="#555" stroke-width="1.2" />
<text x="1749.9" y="354.24" font-size="26" text-anchor="middle" fill="#262626" stroke="#262626">7</text>
<text transform="translate(1599.06,388.36) scale(0.8926,1)" font-size="25.06" font-weight="normal" fill="#262626" stroke="#262626">trial</text>
<line x1="1489.5" y1="153.5" x2="1489.5" y2="140.3" stroke="#111" stroke-width="1.2" stroke-dasharray="33,20"/>
<line x1="1484" y1="140.3" x2="1495" y2="140.3" stroke="#111" stroke-width="1.3" />
<rect x="1478.5" y="153.5" width="22" height="30" fill="none" stroke="#111" stroke-width="1.3"/>
<line x1="1478.5" y1="159.5" x2="1500.5" y2="159.5" stroke="#111" stroke-width="1.3" />
<circle cx="1489.5" cy="144.8" r="2.7" fill="#9a9a9a"/>
<circle cx="1489.5" cy="152" r="2.7" fill="#9a9a9a"/>
<circle cx="1489.5" cy="154.8" r="2.7" fill="#9a9a9a"/>
<circle cx="1489.5" cy="157.6" r="2.7" fill="#9a9a9a"/>
<circle cx="1489.5" cy="160.4" r="2.7" fill="#9a9a9a"/>
<circle cx="1489.5" cy="168.3" r="2.7" fill="#9a9a9a"/>
<circle cx="1489.5" cy="228.5" r="2.7" fill="#9a9a9a"/>
<circle cx="1489.5" cy="258" r="2.7" fill="#9a9a9a"/>
<circle cx="1489.5" cy="263.3" r="2.7" fill="#9a9a9a"/>
<line x1="1532.6" y1="152.3" x2="1532.6" y2="144.5" stroke="#111" stroke-width="1.2" stroke-dasharray="33,20"/>
<line x1="1527.1" y1="144.5" x2="1538.1" y2="144.5" stroke="#111" stroke-width="1.3" />
<line x1="1532.6" y1="178.8" x2="1532.6" y2="168.3" stroke="#111" stroke-width="1.2" stroke-dasharray="33,20"/>
<line x1="1527.1" y1="178.8" x2="1538.1" y2="178.8" stroke="#111" stroke-width="1.3" />
<rect x="1521.6" y="152.3" width="22" height="16" fill="none" stroke="#111" stroke-width="1.3"/>
<line x1="1521.6" y1="159.5" x2="1543.6" y2="159.5" stroke="#111" stroke-width="1.3" />
<circle cx="1532.6" cy="100.9" r="2.7" fill="#9a9a9a"/>
<circle cx="1532.6" cy="110.7" r="2.7" fill="#9a9a9a"/>
<circle cx="1532.6" cy="145.4" r="2.7" fill="#9a9a9a"/>
<circle cx="1532.6" cy="150" r="2.7" fill="#9a9a9a"/>
<circle cx="1532.6" cy="153" r="2.7" fill="#9a9a9a"/>
<circle cx="1532.6" cy="156" r="2.7" fill="#9a9a9a"/>
<circle cx="1532.6" cy="159" r="2.7" fill="#9a9a9a"/>
<circle cx="1532.6" cy="162" r="2.7" fill="#9a9a9a"/>
<circle cx="1532.6" cy="164" r="2.7" fill="#9a9a9a"/>
<circle cx="1532.6" cy="270.6" r="2.7" fill="#9a9a9a"/>
<circle cx="1532.6" cy="299.3" r="2.7" fill="#9a9a9a"/>
<line x1="1576.3" y1="146.3" x2="1576.3" y2="134.1" stroke="#111" stroke-width="1.2" stroke-dasharray="33,20"/>
<line x1="1570.8" y1="134.1" x2="1581.8" y2="134.1" stroke="#111" stroke-width="1.3" />
<rect x="1565.3" y="146.3" width="22" height="14.1" fill="none" stroke="#111" stroke-width="1.3"/>
<line x1="1565.3" y1="155.7" x2="1587.3" y2="155.7" stroke="#111" stroke-width="1.3" />
<circle cx="1576.3" cy="118.8" r="2.7" fill="#9a9a9a"/>
<circle cx="1576.3" cy="134.5" r="2.7" fill="#9a9a9a"/>
<circle cx="1576.3" cy="140" r="2.7" fill="#9a9a9a"/>
<circle cx="1576.3" cy="144" r="2.7" fill="#9a9a9a"/>
<circle cx="1576.3" cy="148" r="2.7" fill="#9a9a9a"/>
<circle cx="1576.3" cy="151" r="2.7" fill="#9a9a9a"/>
<circle cx="1576.3" cy="154" r="2.7" fill="#9a9a9a"/>
<circle cx="1576.3" cy="157" r="2.7" fill="#9a9a9a"/>
<circle cx="1576.3" cy="160" r="2.7" fill="#9a9a9a"/>
<circle cx="1576.3" cy="253.7" r="2.7" fill="#9a9a9a"/>
<circle cx="1576.3" cy="266.8" r="2.7" fill="#9a9a9a"/>
<line x1="1619.5" y1="149.3" x2="1619.5" y2="132.8" stroke="#111" stroke-width="1.2" stroke-dasharray="33,20"/>
<line x1="1614" y1="132.8" x2="1625" y2="132.8" stroke="#111" stroke-width="1.3" />
<line x1="1619.5" y1="217.1" x2="1619.5" y2="177.5" stroke="#111" stroke-width="1.2" stroke-dasharray="33,20"/>
<line x1="1614" y1="217.1" x2="1625" y2="217.1" stroke="#111" stroke-width="1.3" />
<rect x="1608.5" y="149.3" width="22" height="28.2" fill="none" stroke="#111" stroke-width="1.3"/>
<line x1="1608.5" y1="159.5" x2="1630.5" y2="159.5" stroke="#111" stroke-width="1.3" />
<circle cx="1619.5" cy="56.8" r="2.7" fill="#9a9a9a"/>
<circle cx="1619.5" cy="107.3" r="2.7" fill="#9a9a9a"/>
<circle cx="1619.5" cy="146.3" r="2.7" fill="#9a9a9a"/>
<circle cx="1619.5" cy="152.3" r="2.7" fill="#9a9a9a"/>
<circle cx="1619.5" cy="158.5" r="2.7" fill="#9a9a9a"/>
<circle cx="1619.5" cy="164.2" r="2.7" fill="#9a9a9a"/>
<circle cx="1619.5" cy="227.6" r="2.7" fill="#9a9a9a"/>
<circle cx="1619.5" cy="297.4" r="2.7" fill="#9a9a9a"/>
<line x1="1662.9" y1="152.3" x2="1662.9" y2="126.6" stroke="#111" stroke-width="1.2" stroke-dasharray="33,20"/>
<line x1="1657.4" y1="126.6" x2="1668.4" y2="126.6" stroke="#111" stroke-width="1.3" />
<line x1="1662.9" y1="258.9" x2="1662.9" y2="199.8" stroke="#111" stroke-width="1.2" stroke-dasharray="33,20"/>
<line x1="1657.4" y1="258.9" x2="1668.4" y2="258.9" stroke="#111" stroke-width="1.3" />
<rect x="1651.9" y="152.3" width="22" height="47.5" fill="none" stroke="#111" stroke-width="1.3"/>
<line x1="1651.9" y1="154.8" x2="1673.9" y2="154.8" stroke="#111" stroke-width="1.3" />
<circle cx="1662.9" cy="128" r="2.7" fill="#9a9a9a"/>
<circle cx="1662.9" cy="130.4" r="2.7" fill="#9a9a9a"/>
<circle cx="1662.9" cy="133" r="2.7" fill="#9a9a9a"/>
<circle cx="1662.9" cy="152" r="2.7" fill="#9a9a9a"/>
<circle cx="1662.9" cy="155" r="2.7" fill="#9a9a9a"/>
<circle cx="1662.9" cy="158" r="2.7" fill="#9a9a9a"/>
<circle cx="1662.9" cy="161" r="2.7" fill="#9a9a9a"/>
<circle cx="1662.9" cy="190.8" r="2.7" fill="#9a9a9a"/>
<circle cx="1662.9" cy="226.7" r="2.7" fill="#9a9a9a"/>
<circle cx="1662.9" cy="244.9" r="2.7" fill="#9a9a9a"/>
<circle cx="1662.9" cy="258.9" r="2.7" fill="#9a9a9a"/>
<circle cx="1662.9" cy="275.4" r="2.7" fill="#9a9a9a"/>
<line x1="1706.4" y1="152.3" x2="1706.4" y2="132.8" stroke="#111" stroke-width="1.2" stroke-dasharray="33,20"/>
<line x1="1700.9" y1="132.8" x2="1711.9" y2="132.8" stroke="#111" stroke-width="1.3" />
<line x1="1706.4" y1="268.7" x2="1706.4" y2="205.5" stroke="#111" stroke-width="1.2" stroke-dasharray="33,20"/>
<line x1="1700.9" y1="268.7" x2="1711.9" y2="268.7" stroke="#111" stroke-width="1.3" />
<rect x="1695.4" y="152.3" width="22" height="53.2" fill="none" stroke="#111" stroke-width="1.3"/>
<line x1="1695.4" y1="159.9" x2="1717.4" y2="159.9" stroke="#111" stroke-width="1.3" />
<circle cx="1706.4" cy="148" r="2.7" fill="#9a9a9a"/>
<circle cx="1706.4" cy="151" r="2.7" fill="#9a9a9a"/>
<circle cx="1706.4" cy="154" r="2.7" fill="#9a9a9a"/>
<circle cx="1706.4" cy="157" r="2.7" fill="#9a9a9a"/>
<circle cx="1706.4" cy="160" r="2.7" fill="#9a9a9a"/>
<circle cx="1706.4" cy="163" r="2.7" fill="#9a9a9a"/>
<circle cx="1706.4" cy="167.5" r="2.7" fill="#9a9a9a"/>
<circle cx="1706.4" cy="190.8" r="2.7" fill="#9a9a9a"/>
<circle cx="1706.4" cy="248" r="2.7" fill="#9a9a9a"/>
<circle cx="1706.4" cy="268.7" r="2.7" fill="#9a9a9a"/>
<line x1="1749.9" y1="155.4" x2="1749.9" y2="151.4" stroke="#111" stroke-width="1.2" stroke-dasharray="33,20"/>
<line x1="1744.4" y1="151.4" x2="1755.4" y2="151.4" stroke="#111" stroke-width="1.3" />
<line x1="1749.9" y1="268.7" x2="1749.9" y2="202.3" stroke="#111" stroke-width="1.2" stroke-dasharray="33,20"/>
<line x1="1744.4" y1="268.7" x2="1755.4" y2="268.7" stroke="#111" stroke-width="1.3" />
<rect x="1738.9" y="155.4" width="22" height="46.9" fill="none" stroke="#111" stroke-width="1.3"/>
<line x1="1738.9" y1="160.8" x2="1760.9" y2="160.8" stroke="#111" stroke-width="1.3" />
<circle cx="1749.9" cy="151.4" r="2.7" fill="#9a9a9a"/>
<circle cx="1749.9" cy="155" r="2.7" fill="#9a9a9a"/>
<circle cx="1749.9" cy="158" r="2.7" fill="#9a9a9a"/>
<circle cx="1749.9" cy="161" r="2.7" fill="#9a9a9a"/>
<circle cx="1749.9" cy="164" r="2.7" fill="#9a9a9a"/>
<circle cx="1749.9" cy="188.2" r="2.7" fill="#9a9a9a"/>
<circle cx="1749.9" cy="245" r="2.7" fill="#9a9a9a"/>
<circle cx="1749.9" cy="268.7" r="2.7" fill="#9a9a9a"/>
<text transform="translate(1337.99,494.56) scale(1.0053,1)" font-size="45.34" font-weight="normal" fill="#000" stroke="#000">d</text>
<text transform="translate(1543.16,490.17) scale(1.1813,1)" font-size="25.63" font-weight="bold" fill="#262626" stroke="#262626">during CS</text>
<text transform="translate(1395.38,742.04) rotate(-90) scale(0.9303,1)" font-size="25.64" font-weight="normal" fill="#262626" stroke="#262626">frequency (Hz)</text>
<line x1="1461.6" y1="507" x2="1461.6" y2="832" stroke="#383838" stroke-width="1.2" />
<line x1="1461.6" y1="832" x2="1465.1" y2="832" stroke="#383838" stroke-width="1.2" />
<line x1="1461.6" y1="767" x2="1465.1" y2="767" stroke="#383838" stroke-width="1.2" />
<line x1="1461.6" y1="702" x2="1465.1" y2="702" stroke="#383838" stroke-width="1.2" />
<line x1="1461.6" y1="637" x2="1465.1" y2="637" stroke="#383838" stroke-width="1.2" />
<line x1="1461.6" y1="572" x2="1465.1" y2="572" stroke="#383838" stroke-width="1.2" />
<line x1="1461.6" y1="507" x2="1465.1" y2="507" stroke="#383838" stroke-width="1.2" />
<text x="1454" y="515.95" font-size="26" text-anchor="end" fill="#262626" stroke="#262626">2.5</text>
<text x="1454" y="581.08" font-size="26" text-anchor="end" fill="#262626" stroke="#262626">2</text>
<text x="1454" y="645.82" font-size="26" text-anchor="end" fill="#262626" stroke="#262626">1.5</text>
<text x="1454" y="710.94" font-size="26" text-anchor="end" fill="#262626" stroke="#262626">1</text>
<text x="1454" y="775.95" font-size="26" text-anchor="end" fill="#262626" stroke="#262626">0.5</text>
<text x="1454" y="840.95" font-size="26" text-anchor="end" fill="#262626" stroke="#262626">0</text>
<line x1="1483.6" y1="832" x2="1748.38" y2="832" stroke="#404040" stroke-width="1.3" />
<line x1="1483.6" y1="832" x2="1483.6" y2="828" stroke="#383838" stroke-width="1.2" />
<text x="1483.6" y="858.04" font-size="26" text-anchor="middle" fill="#262626" stroke="#262626">1</text>
<line x1="1527.73" y1="832" x2="1527.73" y2="828" stroke="#383838" stroke-width="1.2" />
<text x="1527.73" y="858.18" font-size="26" text-anchor="middle" fill="#262626" stroke="#262626">2</text>
<line x1="1571.86" y1="832" x2="1571.86" y2="828" stroke="#383838" stroke-width="1.2" />
<text x="1571.86" y="858.05" font-size="26" text-anchor="middle" fill="#262626" stroke="#262626">3</text>
<line x1="1615.99" y1="832" x2="1615.99" y2="828" stroke="#383838" stroke-width="1.2" />
<text x="1615.99" y="858.04" font-size="26" text-anchor="middle" fill="#262626" stroke="#262626">4</text>
<line x1="1660.12" y1="832" x2="1660.12" y2="828" stroke="#383838" stroke-width="1.2" />
<text x="1660.12" y="857.92" font-size="26" text-anchor="middle" fill="#262626" stroke="#262626">5</text>
<line x1="1704.25" y1="832" x2="1704.25" y2="828" stroke="#383838" stroke-width="1.2" />
<text x="1704.25" y="858.05" font-size="26" text-anchor="middle" fill="#262626" stroke="#262626">6</text>
<line x1="1748.38" y1="832" x2="1748.38" y2="828" stroke="#383838" stroke-width="1.2" />
<text x="1748.38" y="858.04" font-size="26" text-anchor="middle" fill="#262626" stroke="#262626">7</text>
<text transform="translate(1598.36,891.35) scale(0.8903,1)" font-size="25.19" font-weight="normal" fill="#262626" stroke="#262626">trial</text>
<line x1="1483.6" y1="716.56" x2="1483.6" y2="665.6" stroke="#111" stroke-width="1.2" stroke-dasharray="33,20"/>
<line x1="1478.1" y1="665.6" x2="1489.1" y2="665.6" stroke="#111" stroke-width="1.3" />
<line x1="1483.6" y1="786.89" x2="1483.6" y2="768.17" stroke="#111" stroke-width="1.2" stroke-dasharray="33,20"/>
<line x1="1478.1" y1="786.89" x2="1489.1" y2="786.89" stroke="#111" stroke-width="1.3" />
<rect x="1472.6" y="716.56" width="22" height="51.61" fill="none" stroke="#111" stroke-width="1.3"/>
<line x1="1472.6" y1="751.66" x2="1494.6" y2="751.66" stroke="#111" stroke-width="1.3" />
<circle cx="1483.6" cy="665.6" r="2.7" fill="#9a9a9a"/>
<circle cx="1483.6" cy="689.26" r="2.7" fill="#9a9a9a"/>
<circle cx="1483.6" cy="716.56" r="2.7" fill="#9a9a9a"/>
<circle cx="1483.6" cy="726.96" r="2.7" fill="#9a9a9a"/>
<circle cx="1483.6" cy="728.39" r="2.7" fill="#9a9a9a"/>
<circle cx="1483.6" cy="753.09" r="2.7" fill="#9a9a9a"/>
<circle cx="1483.6" cy="755.3" r="2.7" fill="#9a9a9a"/>
<circle cx="1483.6" cy="767.65" r="2.7" fill="#9a9a9a"/>
<circle cx="1483.6" cy="780.52" r="2.7" fill="#9a9a9a"/>
<circle cx="1483.6" cy="786.89" r="2.7" fill="#9a9a9a"/>
<line x1="1527.73" y1="725.53" x2="1527.73" y2="689.26" stroke="#111" stroke-width="1.2" stroke-dasharray="33,20"/>
<line x1="1522.23" y1="689.26" x2="1533.23" y2="689.26" stroke="#111" stroke-width="1.3" />
<line x1="1527.73" y1="780.52" x2="1527.73" y2="769.6" stroke="#111" stroke-width="1.2" stroke-dasharray="33,20"/>
<line x1="1522.23" y1="780.52" x2="1533.23" y2="780.52" stroke="#111" stroke-width="1.3" />
<rect x="1516.73" y="725.53" width="22" height="44.07" fill="none" stroke="#111" stroke-width="1.3"/>
<line x1="1516.73" y1="754.52" x2="1538.73" y2="754.52" stroke="#111" stroke-width="1.3" />
<circle cx="1527.73" cy="689.26" r="2.7" fill="#9a9a9a"/>
<circle cx="1527.73" cy="691.21" r="2.7" fill="#9a9a9a"/>
<circle cx="1527.73" cy="736.58" r="2.7" fill="#9a9a9a"/>
<circle cx="1527.73" cy="742.69" r="2.7" fill="#9a9a9a"/>
<circle cx="1527.73" cy="755.04" r="2.7" fill="#9a9a9a"/>
<circle cx="1527.73" cy="767.65" r="2.7" fill="#9a9a9a"/>
<circle cx="1527.73" cy="773.11" r="2.7" fill="#9a9a9a"/>
<circle cx="1527.73" cy="780.52" r="2.7" fill="#9a9a9a"/>
<line x1="1571.86" y1="690.43" x2="1571.86" y2="663.78" stroke="#111" stroke-width="1.2" stroke-dasharray="33,20"/>
<line x1="1566.36" y1="663.78" x2="1577.36" y2="663.78" stroke="#111" stroke-width="1.3" />
<line x1="1571.86" y1="780.52" x2="1571.86" y2="754.52" stroke="#111" stroke-width="1.2" stroke-dasharray="33,20"/>
<line x1="1566.36" y1="780.52" x2="1577.36" y2="780.52" stroke="#111" stroke-width="1.3" />
<rect x="1560.86" y="690.43" width="22" height="64.09" fill="none" stroke="#111" stroke-width="1.3"/>
<line x1="1560.86" y1="704.21" x2="1582.86" y2="704.21" stroke="#111" stroke-width="1.3" />
<circle cx="1571.86" cy="663.78" r="2.7" fill="#9a9a9a"/>
<circle cx="1571.86" cy="667.03" r="2.7" fill="#9a9a9a"/>
<circle cx="1571.86" cy="676.13" r="2.7" fill="#9a9a9a"/>
<circle cx="1571.86" cy="689.26" r="2.7" fill="#9a9a9a"/>
<circle cx="1571.86" cy="696.8" r="2.7" fill="#9a9a9a"/>
<circle cx="1571.86" cy="702.26" r="2.7" fill="#9a9a9a"/>
<circle cx="1571.86" cy="733.07" r="2.7" fill="#9a9a9a"/>
<circle cx="1571.86" cy="742.69" r="2.7" fill="#9a9a9a"/>
<circle cx="1571.86" cy="755.04" r="2.7" fill="#9a9a9a"/>
<circle cx="1571.86" cy="780.52" r="2.7" fill="#9a9a9a"/>
<line x1="1615.99" y1="674.7" x2="1615.99" y2="637.65" stroke="#111" stroke-width="1.2" stroke-dasharray="33,20"/>
<line x1="1610.49" y1="637.65" x2="1621.49" y2="637.65" stroke="#111" stroke-width="1.3" />
<line x1="1615.99" y1="784.68" x2="1615.99" y2="748.93" stroke="#111" stroke-width="1.2" stroke-dasharray="33,20"/>
<line x1="1610.49" y1="784.68" x2="1621.49" y2="784.68" stroke="#111" stroke-width="1.3" />
<rect x="1604.99" y="674.7" width="22" height="74.23" fill="none" stroke="#111" stroke-width="1.3"/>
<line x1="1604.99" y1="716.56" x2="1626.99" y2="716.56" stroke="#111" stroke-width="1.3" />
<circle cx="1615.99" cy="637.65" r="2.7" fill="#9a9a9a"/>
<circle cx="1615.99" cy="660.4" r="2.7" fill="#9a9a9a"/>
<circle cx="1615.99" cy="663.78" r="2.7" fill="#9a9a9a"/>
<circle cx="1615.99" cy="678.86" r="2.7" fill="#9a9a9a"/>
<circle cx="1615.99" cy="697.32" r="2.7" fill="#9a9a9a"/>
<circle cx="1615.99" cy="702.26" r="2.7" fill="#9a9a9a"/>
<circle cx="1615.99" cy="704.21" r="2.7" fill="#9a9a9a"/>
<circle cx="1615.99" cy="716.56" r="2.7" fill="#9a9a9a"/>
<circle cx="1615.99" cy="736.58" r="2.7" fill="#9a9a9a"/>
<circle cx="1615.99" cy="740.22" r="2.7" fill="#9a9a9a"/>
<circle cx="1615.99" cy="742.69" r="2.7" fill="#9a9a9a"/>
<circle cx="1615.99" cy="767.65" r="2.7" fill="#9a9a9a"/>
<circle cx="1615.99" cy="780.52" r="2.7" fill="#9a9a9a"/>
<circle cx="1615.99" cy="784.68" r="2.7" fill="#9a9a9a"/>
<line x1="1660.12" y1="678.08" x2="1660.12" y2="638.17" stroke="#111" stroke-width="1.2" stroke-dasharray="33,20"/>
<line x1="1654.62" y1="638.17" x2="1665.62" y2="638.17" stroke="#111" stroke-width="1.3" />
<line x1="1660.12" y1="780.52" x2="1660.12" y2="758.55" stroke="#111" stroke-width="1.2" stroke-dasharray="33,20"/>
<line x1="1654.62" y1="780.52" x2="1665.62" y2="780.52" stroke="#111" stroke-width="1.3" />
<rect x="1649.12" y="678.08" width="22" height="80.47" fill="none" stroke="#111" stroke-width="1.3"/>
<line x1="1649.12" y1="741.52" x2="1671.12" y2="741.52" stroke="#111" stroke-width="1.3" />
<circle cx="1660.12" cy="638.17" r="2.7" fill="#9a9a9a"/>
<circle cx="1660.12" cy="645.32" r="2.7" fill="#9a9a9a"/>
<circle cx="1660.12" cy="665.99" r="2.7" fill="#9a9a9a"/>
<circle cx="1660.12" cy="678.86" r="2.7" fill="#9a9a9a"/>
<circle cx="1660.12" cy="716.56" r="2.7" fill="#9a9a9a"/>
<circle cx="1660.12" cy="736.58" r="2.7" fill="#9a9a9a"/>
<circle cx="1660.12" cy="742.69" r="2.7" fill="#9a9a9a"/>
<circle cx="1660.12" cy="755.04" r="2.7" fill="#9a9a9a"/>
<circle cx="1660.12" cy="767.65" r="2.7" fill="#9a9a9a"/>
<circle cx="1660.12" cy="780.52" r="2.7" fill="#9a9a9a"/>
<line x1="1704.25" y1="688.48" x2="1704.25" y2="651.95" stroke="#111" stroke-width="1.2" stroke-dasharray="33,20"/>
<line x1="1698.75" y1="651.95" x2="1709.75" y2="651.95" stroke="#111" stroke-width="1.3" />
<line x1="1704.25" y1="767.65" x2="1704.25" y2="746.98" stroke="#111" stroke-width="1.2" stroke-dasharray="33,20"/>
<line x1="1698.75" y1="767.65" x2="1709.75" y2="767.65" stroke="#111" stroke-width="1.3" />
<rect x="1693.25" y="688.48" width="22" height="58.5" fill="none" stroke="#111" stroke-width="1.3"/>
<line x1="1693.25" y1="716.56" x2="1715.25" y2="716.56" stroke="#111" stroke-width="1.3" />
<circle cx="1704.25" cy="651.95" r="2.7" fill="#9a9a9a"/>
<circle cx="1704.25" cy="676.65" r="2.7" fill="#9a9a9a"/>
<circle cx="1704.25" cy="685.23" r="2.7" fill="#9a9a9a"/>
<circle cx="1704.25" cy="691.21" r="2.7" fill="#9a9a9a"/>
<circle cx="1704.25" cy="716.56" r="2.7" fill="#9a9a9a"/>
<circle cx="1704.25" cy="718.77" r="2.7" fill="#9a9a9a"/>
<circle cx="1704.25" cy="728.39" r="2.7" fill="#9a9a9a"/>
<circle cx="1704.25" cy="739.31" r="2.7" fill="#9a9a9a"/>
<circle cx="1704.25" cy="755.04" r="2.7" fill="#9a9a9a"/>
<circle cx="1704.25" cy="767.65" r="2.7" fill="#9a9a9a"/>
<line x1="1748.38" y1="716.82" x2="1748.38" y2="664.3" stroke="#111" stroke-width="1.2" stroke-dasharray="33,20"/>
<line x1="1742.88" y1="664.3" x2="1753.88" y2="664.3" stroke="#111" stroke-width="1.3" />
<line x1="1748.38" y1="780.52" x2="1748.38" y2="769.6" stroke="#111" stroke-width="1.2" stroke-dasharray="33,20"/>
<line x1="1742.88" y1="780.52" x2="1753.88" y2="780.52" stroke="#111" stroke-width="1.3" />
<rect x="1737.38" y="716.82" width="22" height="52.78" fill="none" stroke="#111" stroke-width="1.3"/>
<line x1="1737.38" y1="742.04" x2="1759.38" y2="742.04" stroke="#111" stroke-width="1.3" />
<circle cx="1748.38" cy="664.3" r="2.7" fill="#9a9a9a"/>
<circle cx="1748.38" cy="704.21" r="2.7" fill="#9a9a9a"/>
<circle cx="1748.38" cy="716.56" r="2.7" fill="#9a9a9a"/>
<circle cx="1748.38" cy="729.69" r="2.7" fill="#9a9a9a"/>
<circle cx="1748.38" cy="742.04" r="2.7" fill="#9a9a9a"/>
<circle cx="1748.38" cy="767.65" r="2.7" fill="#9a9a9a"/>
<circle cx="1748.38" cy="771.55" r="2.7" fill="#9a9a9a"/>
<circle cx="1748.38" cy="780.52" r="2.7" fill="#9a9a9a"/>
<text transform="translate(1337.88,926.6) scale(1.0869,1)" font-size="46.85" font-weight="normal" fill="#000" stroke="#000">f</text>
<text transform="translate(1521.91,949.57) scale(1.1103,1)" font-size="27.14" font-weight="bold" fill="#262626" stroke="#262626">post CS (5 s)</text>
<text transform="translate(1388.48,1212.64) rotate(-90) scale(0.9303,1)" font-size="25.64" font-weight="normal" fill="#262626" stroke="#262626">frequency (Hz)</text>
<line x1="1457.5" y1="969.45" x2="1457.5" y2="1295.2" stroke="#404040" stroke-width="1.2" />
<line x1="1457.5" y1="1230.05" x2="1461" y2="1230.05" stroke="#404040" stroke-width="1.2" />
<line x1="1457.5" y1="1164.9" x2="1461" y2="1164.9" stroke="#404040" stroke-width="1.2" />
<line x1="1457.5" y1="1099.75" x2="1461" y2="1099.75" stroke="#404040" stroke-width="1.2" />
<line x1="1457.5" y1="1034.6" x2="1461" y2="1034.6" stroke="#404040" stroke-width="1.2" />
<line x1="1457.5" y1="969.45" x2="1461" y2="969.45" stroke="#404040" stroke-width="1.2" />
<text x="1450.3" y="978.4" font-size="26" text-anchor="end" fill="#262626" stroke="#262626">2.5</text>
<text x="1450.3" y="1043.68" font-size="26" text-anchor="end" fill="#262626" stroke="#262626">2</text>
<text x="1450.3" y="1108.57" font-size="26" text-anchor="end" fill="#262626" stroke="#262626">1.5</text>
<text x="1450.3" y="1173.84" font-size="26" text-anchor="end" fill="#262626" stroke="#262626">1</text>
<text x="1450.3" y="1239" font-size="26" text-anchor="end" fill="#262626" stroke="#262626">0.5</text>
<text x="1450.3" y="1277.15" font-size="26" text-anchor="end" fill="#262626" stroke="#262626">0</text>
<line x1="1478.9" y1="1295.2" x2="1744.22" y2="1295.2" stroke="#5a5a5a" stroke-width="1.4" />
<line x1="1478.9" y1="1295.2" x2="1478.9" y2="1291.2" stroke="#404040" stroke-width="1.2" />
<text x="1478.9" y="1321.99" font-size="26" text-anchor="middle" fill="#262626" stroke="#262626">1</text>
<line x1="1523.12" y1="1295.2" x2="1523.12" y2="1291.2" stroke="#404040" stroke-width="1.2" />
<text x="1523.12" y="1322.13" font-size="26" text-anchor="middle" fill="#262626" stroke="#262626">2</text>
<line x1="1567.34" y1="1295.2" x2="1567.34" y2="1291.2" stroke="#404040" stroke-width="1.2" />
<text x="1567.34" y="1322" font-size="26" text-anchor="middle" fill="#262626" stroke="#262626">3</text>
<line x1="1611.56" y1="1295.2" x2="1611.56" y2="1291.2" stroke="#404040" stroke-width="1.2" />
<text x="1611.56" y="1321.99" font-size="26" text-anchor="middle" fill="#262626" stroke="#262626">4</text>
<line x1="1655.78" y1="1295.2" x2="1655.78" y2="1291.2" stroke="#404040" stroke-width="1.2" />
<text x="1655.78" y="1321.87" font-size="26" text-anchor="middle" fill="#262626" stroke="#262626">5</text>
<line x1="1700" y1="1295.2" x2="1700" y2="1291.2" stroke="#404040" stroke-width="1.2" />
<text x="1700" y="1322" font-size="26" text-anchor="middle" fill="#262626" stroke="#262626">6</text>
<line x1="1744.22" y1="1295.2" x2="1744.22" y2="1291.2" stroke="#404040" stroke-width="1.2" />
<text x="1744.22" y="1321.99" font-size="26" text-anchor="middle" fill="#262626" stroke="#262626">7</text>
<text transform="translate(1595.05,1352.35) scale(0.9059,1)" font-size="25.19" font-weight="normal" fill="#262626" stroke="#262626">trial</text>
<line x1="1478.9" y1="1191.61" x2="1478.9" y2="1166.85" stroke="#111" stroke-width="1.2" stroke-dasharray="33,20"/>
<line x1="1473.4" y1="1166.85" x2="1484.4" y2="1166.85" stroke="#111" stroke-width="1.3" />
<line x1="1478.9" y1="1245.16" x2="1478.9" y2="1218.19" stroke="#111" stroke-width="1.2" stroke-dasharray="33,20"/>
<line x1="1473.4" y1="1245.16" x2="1484.4" y2="1245.16" stroke="#111" stroke-width="1.3" />
<rect x="1467.9" y="1191.61" width="22" height="26.58" fill="none" stroke="#111" stroke-width="1.3"/>
<line x1="1467.9" y1="1194.35" x2="1489.9" y2="1194.35" stroke="#111" stroke-width="1.3" />
<circle cx="1478.9" cy="1166.85" r="2.7" fill="#9a9a9a"/>
<circle cx="1478.9" cy="1187.96" r="2.7" fill="#9a9a9a"/>
<circle cx="1478.9" cy="1194.35" r="2.7" fill="#9a9a9a"/>
<circle cx="1478.9" cy="1214.15" r="2.7" fill="#9a9a9a"/>
<circle cx="1478.9" cy="1218.19" r="2.7" fill="#9a9a9a"/>
<circle cx="1478.9" cy="1241.78" r="2.7" fill="#9a9a9a"/>
<circle cx="1478.9" cy="1245.16" r="2.7" fill="#9a9a9a"/>
<line x1="1523.12" y1="1160.47" x2="1523.12" y2="1115.65" stroke="#111" stroke-width="1.2" stroke-dasharray="33,20"/>
<line x1="1517.62" y1="1115.65" x2="1528.62" y2="1115.65" stroke="#111" stroke-width="1.3" />
<line x1="1523.12" y1="1243.73" x2="1523.12" y2="1206.47" stroke="#111" stroke-width="1.2" stroke-dasharray="33,20"/>
<line x1="1517.62" y1="1243.73" x2="1528.62" y2="1243.73" stroke="#111" stroke-width="1.3" />
<rect x="1512.12" y="1160.47" width="22" height="46" fill="none" stroke="#111" stroke-width="1.3"/>
<line x1="1512.12" y1="1192.65" x2="1534.12" y2="1192.65" stroke="#111" stroke-width="1.3" />
<circle cx="1523.12" cy="1115.65" r="2.7" fill="#9a9a9a"/>
<circle cx="1523.12" cy="1132.98" r="2.7" fill="#9a9a9a"/>
<circle cx="1523.12" cy="1141.32" r="2.7" fill="#9a9a9a"/>
<circle cx="1523.12" cy="1166.85" r="2.7" fill="#9a9a9a"/>
<circle cx="1523.12" cy="1168.81" r="2.7" fill="#9a9a9a"/>
<circle cx="1523.12" cy="1194.35" r="2.7" fill="#9a9a9a"/>
<circle cx="1523.12" cy="1243.73" r="2.7" fill="#9a9a9a"/>
<line x1="1567.34" y1="1169.33" x2="1567.34" y2="1160.47" stroke="#111" stroke-width="1.2" stroke-dasharray="33,20"/>
<line x1="1561.84" y1="1160.47" x2="1572.84" y2="1160.47" stroke="#111" stroke-width="1.3" />
<line x1="1567.34" y1="1245.16" x2="1567.34" y2="1218.19" stroke="#111" stroke-width="1.2" stroke-dasharray="33,20"/>
<line x1="1561.84" y1="1245.16" x2="1572.84" y2="1245.16" stroke="#111" stroke-width="1.3" />
<rect x="1556.34" y="1169.33" width="22" height="48.86" fill="none" stroke="#111" stroke-width="1.3"/>
<line x1="1556.34" y1="1214.67" x2="1578.34" y2="1214.67" stroke="#111" stroke-width="1.3" />
<circle cx="1567.34" cy="1160.47" r="2.7" fill="#9a9a9a"/>
<circle cx="1567.34" cy="1166.85" r="2.7" fill="#9a9a9a"/>
<circle cx="1567.34" cy="1187.44" r="2.7" fill="#9a9a9a"/>
<circle cx="1567.34" cy="1192.65" r="2.7" fill="#9a9a9a"/>
<circle cx="1567.34" cy="1214.67" r="2.7" fill="#9a9a9a"/>
<circle cx="1567.34" cy="1218.32" r="2.7" fill="#9a9a9a"/>
<circle cx="1567.34" cy="1245.16" r="2.7" fill="#9a9a9a"/>
<line x1="1611.56" y1="1141.32" x2="1611.56" y2="1115.65" stroke="#111" stroke-width="1.2" stroke-dasharray="33,20"/>
<line x1="1606.06" y1="1115.65" x2="1617.06" y2="1115.65" stroke="#111" stroke-width="1.3" />
<line x1="1611.56" y1="1245.16" x2="1611.56" y2="1225.62" stroke="#111" stroke-width="1.2" stroke-dasharray="33,20"/>
<line x1="1606.06" y1="1245.16" x2="1617.06" y2="1245.16" stroke="#111" stroke-width="1.3" />
<rect x="1600.56" y="1141.32" width="22" height="84.3" fill="none" stroke="#111" stroke-width="1.3"/>
<line x1="1600.56" y1="1187.18" x2="1622.56" y2="1187.18" stroke="#111" stroke-width="1.3" />
<circle cx="1611.56" cy="1013.49" r="2.7" fill="#9a9a9a"/>
<circle cx="1611.56" cy="1115.65" r="2.7" fill="#9a9a9a"/>
<circle cx="1611.56" cy="1119.3" r="2.7" fill="#9a9a9a"/>
<circle cx="1611.56" cy="1141.32" r="2.7" fill="#9a9a9a"/>
<circle cx="1611.56" cy="1160.47" r="2.7" fill="#9a9a9a"/>
<circle cx="1611.56" cy="1187.18" r="2.7" fill="#9a9a9a"/>
<circle cx="1611.56" cy="1194.35" r="2.7" fill="#9a9a9a"/>
<circle cx="1611.56" cy="1214.15" r="2.7" fill="#9a9a9a"/>
<circle cx="1611.56" cy="1219.63" r="2.7" fill="#9a9a9a"/>
<circle cx="1611.56" cy="1245.16" r="2.7" fill="#9a9a9a"/>
<line x1="1655.78" y1="1139.36" x2="1655.78" y2="1106.92" stroke="#111" stroke-width="1.2" stroke-dasharray="33,20"/>
<line x1="1650.28" y1="1106.92" x2="1661.28" y2="1106.92" stroke="#111" stroke-width="1.3" />
<line x1="1655.78" y1="1243.73" x2="1655.78" y2="1215.46" stroke="#111" stroke-width="1.2" stroke-dasharray="33,20"/>
<line x1="1650.28" y1="1243.73" x2="1661.28" y2="1243.73" stroke="#111" stroke-width="1.3" />
<rect x="1644.78" y="1139.36" width="22" height="76.1" fill="none" stroke="#111" stroke-width="1.3"/>
<line x1="1644.78" y1="1166.85" x2="1666.78" y2="1166.85" stroke="#111" stroke-width="1.3" />
<circle cx="1655.78" cy="1106.92" r="2.7" fill="#9a9a9a"/>
<circle cx="1655.78" cy="1115.65" r="2.7" fill="#9a9a9a"/>
<circle cx="1655.78" cy="1132.98" r="2.7" fill="#9a9a9a"/>
<circle cx="1655.78" cy="1142.1" r="2.7" fill="#9a9a9a"/>
<circle cx="1655.78" cy="1144.7" r="2.7" fill="#9a9a9a"/>
<circle cx="1655.78" cy="1168.81" r="2.7" fill="#9a9a9a"/>
<circle cx="1655.78" cy="1192.65" r="2.7" fill="#9a9a9a"/>
<circle cx="1655.78" cy="1214.15" r="2.7" fill="#9a9a9a"/>
<circle cx="1655.78" cy="1219.63" r="2.7" fill="#9a9a9a"/>
<circle cx="1655.78" cy="1243.73" r="2.7" fill="#9a9a9a"/>
<line x1="1700" y1="1162.42" x2="1700" y2="1106.92" stroke="#111" stroke-width="1.2" stroke-dasharray="33,20"/>
<line x1="1694.5" y1="1106.92" x2="1705.5" y2="1106.92" stroke="#111" stroke-width="1.3" />
<line x1="1700" y1="1243.73" x2="1700" y2="1218.19" stroke="#111" stroke-width="1.2" stroke-dasharray="33,20"/>
<line x1="1694.5" y1="1243.73" x2="1705.5" y2="1243.73" stroke="#111" stroke-width="1.3" />
<rect x="1689" y="1162.42" width="22" height="55.77" fill="none" stroke="#111" stroke-width="1.3"/>
<line x1="1689" y1="1194.35" x2="1711" y2="1194.35" stroke="#111" stroke-width="1.3" />
<circle cx="1700" cy="1106.92" r="2.7" fill="#9a9a9a"/>
<circle cx="1700" cy="1115.65" r="2.7" fill="#9a9a9a"/>
<circle cx="1700" cy="1141.32" r="2.7" fill="#9a9a9a"/>
<circle cx="1700" cy="1169.33" r="2.7" fill="#9a9a9a"/>
<circle cx="1700" cy="1187.44" r="2.7" fill="#9a9a9a"/>
<circle cx="1700" cy="1194.35" r="2.7" fill="#9a9a9a"/>
<circle cx="1700" cy="1218.19" r="2.7" fill="#9a9a9a"/>
<circle cx="1700" cy="1243.73" r="2.7" fill="#9a9a9a"/>
<line x1="1744.22" y1="1167.38" x2="1744.22" y2="1160.47" stroke="#111" stroke-width="1.2" stroke-dasharray="33,20"/>
<line x1="1738.72" y1="1160.47" x2="1749.72" y2="1160.47" stroke="#111" stroke-width="1.3" />
<line x1="1744.22" y1="1218.19" x2="1744.22" y2="1194.35" stroke="#111" stroke-width="1.2" stroke-dasharray="33,20"/>
<line x1="1738.72" y1="1218.19" x2="1749.72" y2="1218.19" stroke="#111" stroke-width="1.3" />
<rect x="1733.22" y="1167.38" width="22" height="26.97" fill="none" stroke="#111" stroke-width="1.3"/>
<line x1="1733.22" y1="1192.65" x2="1755.22" y2="1192.65" stroke="#111" stroke-width="1.3" />
<circle cx="1744.22" cy="1106.92" r="2.7" fill="#9a9a9a"/>
<circle cx="1744.22" cy="1119.3" r="2.7" fill="#9a9a9a"/>
<circle cx="1744.22" cy="1160.47" r="2.7" fill="#9a9a9a"/>
<circle cx="1744.22" cy="1168.81" r="2.7" fill="#9a9a9a"/>
<circle cx="1744.22" cy="1187.96" r="2.7" fill="#9a9a9a"/>
<circle cx="1744.22" cy="1194.35" r="2.7" fill="#9a9a9a"/>
<circle cx="1744.22" cy="1214.15" r="2.7" fill="#9a9a9a"/>
<circle cx="1744.22" cy="1218.19" r="2.7" fill="#9a9a9a"/>
<text transform="translate(-0.8,461.07) scale(1.0615,1)" font-size="44.36" font-weight="normal" fill="#000" stroke="#000">c</text>
<text transform="translate(46.52,664.64) rotate(-90) scale(1.0054,1)" font-size="30.11" font-weight="bold" fill="#262626" stroke="#262626">during CS</text>
<text transform="translate(96.18,664.56) rotate(-90) scale(0.9182,1)" font-size="25.64" font-weight="normal" fill="#262626" stroke="#262626">relative power</text>
<polyline points="169.1,759.6 181.1,752.63 193.1,589.27 205.1,752.63 217.1,753.58 229.1,753.9 241.1,754.22 253.1,754.22 265.1,754.22 277.1,754.22 289.1,754.22 301.1,754.22 313.1,754.53 325.1,755.17 337.1,754.53 349.1,753.27 361.1,753.58 373.1,754.53 385.1,755.17 397.1,755.17 409.1,754.85 421.1,754.53 433.1,753.9 445.1,753.9 457.1,754.22" fill="none" stroke="#000" stroke-width="1.1" stroke-linejoin="round" stroke-linejoin="miter"/>
<line x1="157.1" y1="443" x2="157.1" y2="760.1" stroke="#2b2b2b" stroke-width="1.1" />
<line x1="156.6" y1="759.6" x2="457.1" y2="759.6" stroke="#2b2b2b" stroke-width="1.1" />
<line x1="157.1" y1="759.6" x2="160.6" y2="759.6" stroke="#2b2b2b" stroke-width="1.1" />
<line x1="157.1" y1="601.3" x2="160.6" y2="601.3" stroke="#2b2b2b" stroke-width="1.1" />
<line x1="157.1" y1="443" x2="160.6" y2="443" stroke="#2b2b2b" stroke-width="1.1" />
<line x1="157.1" y1="759.6" x2="157.1" y2="756.1" stroke="#2b2b2b" stroke-width="1.1" />
<line x1="217.1" y1="759.6" x2="217.1" y2="756.1" stroke="#2b2b2b" stroke-width="1.1" />
<line x1="277.1" y1="759.6" x2="277.1" y2="756.1" stroke="#2b2b2b" stroke-width="1.1" />
<line x1="337.1" y1="759.6" x2="337.1" y2="756.1" stroke="#2b2b2b" stroke-width="1.1" />
<line x1="397.1" y1="759.6" x2="397.1" y2="756.1" stroke="#2b2b2b" stroke-width="1.1" />
<line x1="457.1" y1="759.6" x2="457.1" y2="756.1" stroke="#2b2b2b" stroke-width="1.1" />
<text x="150.6" y="451.94" font-size="26" text-anchor="end" fill="#262626" stroke="#262626">1</text>
<text x="150.6" y="610.25" font-size="26" text-anchor="end" fill="#262626" stroke="#262626">0.5</text>
<text x="150.6" y="768.55" font-size="26" text-anchor="end" fill="#262626" stroke="#262626">0</text>
<text x="157.1" y="788.65" font-size="26" text-anchor="middle" fill="#262626" stroke="#262626">0</text>
<text x="223.6" y="788.65" font-size="26" text-anchor="middle" fill="#262626" stroke="#262626">0.5</text>
<text x="277.1" y="788.64" font-size="26" text-anchor="middle" fill="#262626" stroke="#262626">1</text>
<text x="343.6" y="788.52" font-size="26" text-anchor="middle" fill="#262626" stroke="#262626">1.5</text>
<text x="397.1" y="788.78" font-size="26" text-anchor="middle" fill="#262626" stroke="#262626">2</text>
<text x="463.6" y="788.65" font-size="26" text-anchor="middle" fill="#262626" stroke="#262626">2.5</text>
<text transform="translate(279.85,467.52) scale(1.0082,1)" font-size="28.46" font-weight="bold" fill="#262626" stroke="#262626">trial 1</text>
<text transform="translate(232.27,815.12) scale(0.8939,1)" font-size="26.39" font-weight="normal" fill="#262626" stroke="#262626">frequency (Hz)</text>
<text transform="translate(359.47,743.15) scale(1.0523,1)" font-size="25.46" font-weight="normal" fill="#262626" stroke="#262626">baseline</text>
<circle cx="198.98" cy="666.86" r="2.0" fill="#3b3b80"/>
<circle cx="204.97" cy="645.01" r="2.0" fill="#3b3b80"/>
<circle cx="204.97" cy="662.37" r="2.0" fill="#3b3b80"/>
<circle cx="216.34" cy="644.42" r="2.0" fill="#3b3b80"/>
<circle cx="216.34" cy="667.76" r="2.0" fill="#3b3b80"/>
<circle cx="228.31" cy="633.05" r="2.0" fill="#3b3b80"/>
<circle cx="228.9" cy="665.96" r="2.0" fill="#3b3b80"/>
<circle cx="228.9" cy="670.75" r="2.0" fill="#3b3b80"/>
<circle cx="230.4" cy="662.37" r="2.0" fill="#3b3b80"/>
<circle cx="252.84" cy="666.56" r="2.0" fill="#3b3b80"/>
<circle cx="254.94" cy="643.82" r="2.0" fill="#3b3b80"/>
<circle cx="263.32" cy="637.53" r="2.0" fill="#3b3b80"/>
<circle cx="263.32" cy="639.93" r="2.0" fill="#3b3b80"/>
<circle cx="288.75" cy="648.31" r="2.0" fill="#3b3b80"/>
<circle cx="288.75" cy="659.98" r="2.0" fill="#3b3b80"/>
<circle cx="311.19" cy="663.87" r="2.0" fill="#3b3b80"/>
<polyline points="581,759.6 593,752.63 605,589.27 617,752.63 629,753.58 641,753.9 653,754.22 665,754.22 677,754.22 689,754.22 701,754.22 713,754.22 725,754.53 737,755.17 749,754.53 761,753.27 773,753.58 785,754.53 797,755.17 809,755.17 821,754.85 833,754.53 845,753.9 857,753.9 869,754.22" fill="none" stroke="#000" stroke-width="1.1" stroke-linejoin="round" stroke-linejoin="miter"/>
<line x1="569" y1="443" x2="569" y2="760.1" stroke="#2b2b2b" stroke-width="1.1" />
<line x1="568.5" y1="759.6" x2="869" y2="759.6" stroke="#2b2b2b" stroke-width="1.1" />
<line x1="569" y1="759.6" x2="572.5" y2="759.6" stroke="#2b2b2b" stroke-width="1.1" />
<line x1="569" y1="601.3" x2="572.5" y2="601.3" stroke="#2b2b2b" stroke-width="1.1" />
<line x1="569" y1="443" x2="572.5" y2="443" stroke="#2b2b2b" stroke-width="1.1" />
<line x1="569" y1="759.6" x2="569" y2="756.1" stroke="#2b2b2b" stroke-width="1.1" />
<line x1="629" y1="759.6" x2="629" y2="756.1" stroke="#2b2b2b" stroke-width="1.1" />
<line x1="689" y1="759.6" x2="689" y2="756.1" stroke="#2b2b2b" stroke-width="1.1" />
<line x1="749" y1="759.6" x2="749" y2="756.1" stroke="#2b2b2b" stroke-width="1.1" />
<line x1="809" y1="759.6" x2="809" y2="756.1" stroke="#2b2b2b" stroke-width="1.1" />
<line x1="869" y1="759.6" x2="869" y2="756.1" stroke="#2b2b2b" stroke-width="1.1" />
<text x="562.5" y="451.94" font-size="26" text-anchor="end" fill="#262626" stroke="#262626">1</text>
<text x="562.5" y="610.25" font-size="26" text-anchor="end" fill="#262626" stroke="#262626">0.5</text>
<text x="562.5" y="768.55" font-size="26" text-anchor="end" fill="#262626" stroke="#262626">0</text>
<text x="569" y="788.65" font-size="26" text-anchor="middle" fill="#262626" stroke="#262626">0</text>
<text x="635.5" y="788.65" font-size="26" text-anchor="middle" fill="#262626" stroke="#262626">0.5</text>
<text x="689" y="788.64" font-size="26" text-anchor="middle" fill="#262626" stroke="#262626">1</text>
<text x="755.5" y="788.52" font-size="26" text-anchor="middle" fill="#262626" stroke="#262626">1.5</text>
<text x="809" y="788.78" font-size="26" text-anchor="middle" fill="#262626" stroke="#262626">2</text>
<text x="875.5" y="788.65" font-size="26" text-anchor="middle" fill="#262626" stroke="#262626">2.5</text>
<text transform="translate(690.85,467.52) scale(1.0129,1)" font-size="28.46" font-weight="bold" fill="#262626" stroke="#262626">trial 4</text>
<text transform="translate(645.56,815.12) scale(0.8986,1)" font-size="26.39" font-weight="normal" fill="#262626" stroke="#262626">frequency (Hz)</text>
<circle cx="612.23" cy="651.74" r="2.0" fill="#3b3b80"/>
<circle cx="615.64" cy="657.76" r="2.0" fill="#3b3b80"/>
<circle cx="627.94" cy="656.45" r="2.0" fill="#3b3b80"/>
<circle cx="628.47" cy="661.16" r="2.0" fill="#3b3b80"/>
<circle cx="651.51" cy="631.31" r="2.0" fill="#3b3b80"/>
<circle cx="656.22" cy="638.12" r="2.0" fill="#3b3b80"/>
<circle cx="652.03" cy="663.52" r="2.0" fill="#3b3b80"/>
<circle cx="675.08" cy="671.37" r="2.0" fill="#3b3b80"/>
<circle cx="675.08" cy="675.83" r="2.0" fill="#3b3b80"/>
<circle cx="686.86" cy="630.26" r="2.0" fill="#3b3b80"/>
<circle cx="688.17" cy="666.4" r="2.0" fill="#3b3b80"/>
<circle cx="692.88" cy="673.73" r="2.0" fill="#3b3b80"/>
<circle cx="710.43" cy="661.42" r="2.0" fill="#3b3b80"/>
<circle cx="723.52" cy="642.83" r="2.0" fill="#3b3b80"/>
<circle cx="726.92" cy="641.79" r="2.0" fill="#3b3b80"/>
<circle cx="747.61" cy="617.7" r="2.0" fill="#3b3b80"/>
<circle cx="747.61" cy="647.02" r="2.0" fill="#3b3b80"/>
<polyline points="985.8,759.6 997.8,752.63 1009.8,589.27 1021.8,752.63 1033.8,753.58 1045.8,753.9 1057.8,754.22 1069.8,754.22 1081.8,754.22 1093.8,754.22 1105.8,754.22 1117.8,754.22 1129.8,754.53 1141.8,755.17 1153.8,754.53 1165.8,753.27 1177.8,753.58 1189.8,754.53 1201.8,755.17 1213.8,755.17 1225.8,754.85 1237.8,754.53 1249.8,753.9 1261.8,753.9 1273.8,754.22" fill="none" stroke="#000" stroke-width="1.1" stroke-linejoin="round" stroke-linejoin="miter"/>
<line x1="973.8" y1="443" x2="973.8" y2="760.1" stroke="#2b2b2b" stroke-width="1.1" />
<line x1="973.3" y1="759.6" x2="1273.8" y2="759.6" stroke="#2b2b2b" stroke-width="1.1" />
<line x1="973.8" y1="759.6" x2="977.3" y2="759.6" stroke="#2b2b2b" stroke-width="1.1" />
<line x1="973.8" y1="601.3" x2="977.3" y2="601.3" stroke="#2b2b2b" stroke-width="1.1" />
<line x1="973.8" y1="443" x2="977.3" y2="443" stroke="#2b2b2b" stroke-width="1.1" />
<line x1="973.8" y1="759.6" x2="973.8" y2="756.1" stroke="#2b2b2b" stroke-width="1.1" />
<line x1="1033.8" y1="759.6" x2="1033.8" y2="756.1" stroke="#2b2b2b" stroke-width="1.1" />
<line x1="1093.8" y1="759.6" x2="1093.8" y2="756.1" stroke="#2b2b2b" stroke-width="1.1" />
<line x1="1153.8" y1="759.6" x2="1153.8" y2="756.1" stroke="#2b2b2b" stroke-width="1.1" />
<line x1="1213.8" y1="759.6" x2="1213.8" y2="756.1" stroke="#2b2b2b" stroke-width="1.1" />
<line x1="1273.8" y1="759.6" x2="1273.8" y2="756.1" stroke="#2b2b2b" stroke-width="1.1" />
<text x="967.3" y="451.94" font-size="26" text-anchor="end" fill="#262626" stroke="#262626">1</text>
<text x="967.3" y="610.25" font-size="26" text-anchor="end" fill="#262626" stroke="#262626">0.5</text>
<text x="967.3" y="768.55" font-size="26" text-anchor="end" fill="#262626" stroke="#262626">0</text>
<text x="973.8" y="788.65" font-size="26" text-anchor="middle" fill="#262626" stroke="#262626">0</text>
<text x="1040.3" y="788.65" font-size="26" text-anchor="middle" fill="#262626" stroke="#262626">0.5</text>
<text x="1093.8" y="788.64" font-size="26" text-anchor="middle" fill="#262626" stroke="#262626">1</text>
<text x="1160.3" y="788.52" font-size="26" text-anchor="middle" fill="#262626" stroke="#262626">1.5</text>
<text x="1213.8" y="788.78" font-size="26" text-anchor="middle" fill="#262626" stroke="#262626">2</text>
<text x="1280.3" y="788.65" font-size="26" text-anchor="middle" fill="#262626" stroke="#262626">2.5</text>
<text transform="translate(1115.26,467.52) scale(0.9686,1)" font-size="28.46" font-weight="bold" fill="#262626" stroke="#262626">trial 7</text>
<text transform="translate(1055.07,815.12) scale(0.8956,1)" font-size="26.39" font-weight="normal" fill="#262626" stroke="#262626">frequency (Hz)</text>
<circle cx="973.84" cy="759.62" r="2.0" fill="#3b3b80"/>
<circle cx="1021.24" cy="659.85" r="2.0" fill="#3b3b80"/>
<circle cx="1021.24" cy="669.54" r="2.0" fill="#3b3b80"/>
<circle cx="1029.09" cy="656.19" r="2.0" fill="#3b3b80"/>
<circle cx="1031.71" cy="672.16" r="2.0" fill="#3b3b80"/>
<circle cx="1033.02" cy="673.99" r="2.0" fill="#3b3b80"/>
<circle cx="1056.59" cy="587.06" r="2.0" fill="#3b3b80"/>
<circle cx="1056.59" cy="659.85" r="2.0" fill="#3b3b80"/>
<circle cx="1056.59" cy="664.04" r="2.0" fill="#3b3b80"/>
<circle cx="1067.06" cy="658.81" r="2.0" fill="#3b3b80"/>
<circle cx="1068.37" cy="652.26" r="2.0" fill="#3b3b80"/>
<circle cx="1079.63" cy="665.88" r="2.0" fill="#3b3b80"/>
<circle cx="1080.68" cy="677.92" r="2.0" fill="#3b3b80"/>
<circle cx="1091.94" cy="655.66" r="2.0" fill="#3b3b80"/>
<circle cx="1129.12" cy="687.61" r="2.0" fill="#3b3b80"/>
<text transform="translate(-1.48,886.46) scale(1.0352,1)" font-size="45.09" font-weight="normal" fill="#000" stroke="#000">e</text>
<text transform="translate(28.08,1070.51) rotate(-90) scale(0.9989,1)" font-size="30.47" font-weight="bold" fill="#262626" stroke="#262626">post CS</text>
<text transform="translate(64.16,1077.1) rotate(-90) scale(1.0183,1)" font-size="29.61" font-weight="bold" fill="#262626" stroke="#262626">(15 - 20 s)</text>
<text transform="translate(97.18,1078.26) rotate(-90) scale(0.9144,1)" font-size="25.64" font-weight="normal" fill="#262626" stroke="#262626">relative power</text>
<polyline points="169.1,1170.3 181.1,1163.34 193.1,1000.13 205.1,1163.34 217.1,1164.29 229.1,1164.61 241.1,1164.92 253.1,1164.92 265.1,1164.92 277.1,1164.92 289.1,1164.92 301.1,1164.92 313.1,1165.24 325.1,1165.87 337.1,1165.24 349.1,1163.97 361.1,1164.29 373.1,1165.24 385.1,1165.87 397.1,1165.87 409.1,1165.56 421.1,1165.24 433.1,1164.61 445.1,1164.61 457.1,1164.92" fill="none" stroke="#000" stroke-width="1.1" stroke-linejoin="round" stroke-linejoin="miter"/>
<line x1="157.1" y1="854" x2="157.1" y2="1170.8" stroke="#2b2b2b" stroke-width="1.1" />
<line x1="156.6" y1="1170.3" x2="457.1" y2="1170.3" stroke="#2b2b2b" stroke-width="1.1" />
<line x1="157.1" y1="1170.3" x2="160.6" y2="1170.3" stroke="#2b2b2b" stroke-width="1.1" />
<line x1="157.1" y1="1012.15" x2="160.6" y2="1012.15" stroke="#2b2b2b" stroke-width="1.1" />
<line x1="157.1" y1="854" x2="160.6" y2="854" stroke="#2b2b2b" stroke-width="1.1" />
<line x1="157.1" y1="1170.3" x2="157.1" y2="1166.8" stroke="#2b2b2b" stroke-width="1.1" />
<line x1="217.1" y1="1170.3" x2="217.1" y2="1166.8" stroke="#2b2b2b" stroke-width="1.1" />
<line x1="277.1" y1="1170.3" x2="277.1" y2="1166.8" stroke="#2b2b2b" stroke-width="1.1" />
<line x1="337.1" y1="1170.3" x2="337.1" y2="1166.8" stroke="#2b2b2b" stroke-width="1.1" />
<line x1="397.1" y1="1170.3" x2="397.1" y2="1166.8" stroke="#2b2b2b" stroke-width="1.1" />
<line x1="457.1" y1="1170.3" x2="457.1" y2="1166.8" stroke="#2b2b2b" stroke-width="1.1" />
<text x="150.6" y="862.94" font-size="26" text-anchor="end" fill="#262626" stroke="#262626">1</text>
<text x="150.6" y="1021.1" font-size="26" text-anchor="end" fill="#262626" stroke="#262626">0.5</text>
<text x="150.6" y="1179.25" font-size="26" text-anchor="end" fill="#262626" stroke="#262626">0</text>
<text x="157.1" y="1199.45" font-size="26" text-anchor="middle" fill="#262626" stroke="#262626">0</text>
<text x="223.6" y="1199.45" font-size="26" text-anchor="middle" fill="#262626" stroke="#262626">0.5</text>
<text x="277.1" y="1199.44" font-size="26" text-anchor="middle" fill="#262626" stroke="#262626">1</text>
<text x="343.6" y="1199.32" font-size="26" text-anchor="middle" fill="#262626" stroke="#262626">1.5</text>
<text x="397.1" y="1199.58" font-size="26" text-anchor="middle" fill="#262626" stroke="#262626">2</text>
<text x="463.6" y="1199.45" font-size="26" text-anchor="middle" fill="#262626" stroke="#262626">2.5</text>
<text transform="translate(278.36,884.55) scale(1.0927,1)" font-size="25.74" font-weight="bold" fill="#262626" stroke="#262626">trial 1</text>
<text transform="translate(235.77,1228.67) scale(0.8983,1)" font-size="26.18" font-weight="normal" fill="#262626" stroke="#262626">frequency (Hz)</text>
<circle cx="206.46" cy="990.98" r="2.0" fill="#3b3b80"/>
<circle cx="204.37" cy="1042.75" r="2.0" fill="#3b3b80"/>
<circle cx="203.47" cy="1071.17" r="2.0" fill="#3b3b80"/>
<circle cx="228.01" cy="977.22" r="2.0" fill="#3b3b80"/>
<circle cx="228.01" cy="1008.34" r="2.0" fill="#3b3b80"/>
<circle cx="231.3" cy="1011.63" r="2.0" fill="#3b3b80"/>
<circle cx="228.01" cy="1025.39" r="2.0" fill="#3b3b80"/>
<circle cx="226.81" cy="1053.82" r="2.0" fill="#3b3b80"/>
<circle cx="251.94" cy="1011.93" r="2.0" fill="#3b3b80"/>
<circle cx="256.43" cy="1035.57" r="2.0" fill="#3b3b80"/>
<circle cx="256.13" cy="1048.43" r="2.0" fill="#3b3b80"/>
<circle cx="249.85" cy="1051.72" r="2.0" fill="#3b3b80"/>
<circle cx="249.85" cy="1062.2" r="2.0" fill="#3b3b80"/>
<circle cx="252.24" cy="1062.2" r="2.0" fill="#3b3b80"/>
<circle cx="275.58" cy="1025.99" r="2.0" fill="#3b3b80"/>
<circle cx="275.58" cy="1063.39" r="2.0" fill="#3b3b80"/>
<polyline points="581,1170.3 593,1163.34 605,1000.13 617,1163.34 629,1164.29 641,1164.61 653,1164.92 665,1164.92 677,1164.92 689,1164.92 701,1164.92 713,1164.92 725,1165.24 737,1165.87 749,1165.24 761,1163.97 773,1164.29 785,1165.24 797,1165.87 809,1165.87 821,1165.56 833,1165.24 845,1164.61 857,1164.61 869,1164.92" fill="none" stroke="#000" stroke-width="1.1" stroke-linejoin="round" stroke-linejoin="miter"/>
<line x1="569" y1="854" x2="569" y2="1170.8" stroke="#2b2b2b" stroke-width="1.1" />
<line x1="568.5" y1="1170.3" x2="869" y2="1170.3" stroke="#2b2b2b" stroke-width="1.1" />
<line x1="569" y1="1170.3" x2="572.5" y2="1170.3" stroke="#2b2b2b" stroke-width="1.1" />
<line x1="569" y1="1012.15" x2="572.5" y2="1012.15" stroke="#2b2b2b" stroke-width="1.1" />
<line x1="569" y1="854" x2="572.5" y2="854" stroke="#2b2b2b" stroke-width="1.1" />
<line x1="569" y1="1170.3" x2="569" y2="1166.8" stroke="#2b2b2b" stroke-width="1.1" />
<line x1="629" y1="1170.3" x2="629" y2="1166.8" stroke="#2b2b2b" stroke-width="1.1" />
<line x1="689" y1="1170.3" x2="689" y2="1166.8" stroke="#2b2b2b" stroke-width="1.1" />
<line x1="749" y1="1170.3" x2="749" y2="1166.8" stroke="#2b2b2b" stroke-width="1.1" />
<line x1="809" y1="1170.3" x2="809" y2="1166.8" stroke="#2b2b2b" stroke-width="1.1" />
<line x1="869" y1="1170.3" x2="869" y2="1166.8" stroke="#2b2b2b" stroke-width="1.1" />
<text x="562.5" y="862.94" font-size="26" text-anchor="end" fill="#262626" stroke="#262626">1</text>
<text x="562.5" y="1021.1" font-size="26" text-anchor="end" fill="#262626" stroke="#262626">0.5</text>
<text x="562.5" y="1179.25" font-size="26" text-anchor="end" fill="#262626" stroke="#262626">0</text>
<text x="569" y="1199.45" font-size="26" text-anchor="middle" fill="#262626" stroke="#262626">0</text>
<text x="635.5" y="1199.45" font-size="26" text-anchor="middle" fill="#262626" stroke="#262626">0.5</text>
<text x="689" y="1199.44" font-size="26" text-anchor="middle" fill="#262626" stroke="#262626">1</text>
<text x="755.5" y="1199.32" font-size="26" text-anchor="middle" fill="#262626" stroke="#262626">1.5</text>
<text x="809" y="1199.58" font-size="26" text-anchor="middle" fill="#262626" stroke="#262626">2</text>
<text x="875.5" y="1199.45" font-size="26" text-anchor="middle" fill="#262626" stroke="#262626">2.5</text>
<text transform="translate(688.25,884.55) scale(1.1289,1)" font-size="25.74" font-weight="bold" fill="#262626" stroke="#262626">trial 4</text>
<text transform="translate(648.97,1228.67) scale(0.8977,1)" font-size="26.18" font-weight="normal" fill="#262626" stroke="#262626">frequency (Hz)</text>
<circle cx="615.64" cy="1001.77" r="2.0" fill="#3b3b80"/>
<circle cx="614.85" cy="1035.03" r="2.0" fill="#3b3b80"/>
<circle cx="615.64" cy="1042.62" r="2.0" fill="#3b3b80"/>
<circle cx="615.64" cy="1044.19" r="2.0" fill="#3b3b80"/>
<circle cx="643.13" cy="1039.48" r="2.0" fill="#3b3b80"/>
<circle cx="637.89" cy="1062.26" r="2.0" fill="#3b3b80"/>
<circle cx="661.2" cy="1059.9" r="2.0" fill="#3b3b80"/>
<circle cx="663.29" cy="1014.08" r="2.0" fill="#3b3b80"/>
<circle cx="667.75" cy="1007.27" r="2.0" fill="#3b3b80"/>
<circle cx="692.62" cy="1030.05" r="2.0" fill="#3b3b80"/>
<circle cx="692.62" cy="1048.64" r="2.0" fill="#3b3b80"/>
<circle cx="710.43" cy="1008.84" r="2.0" fill="#3b3b80"/>
<circle cx="710.43" cy="1030.84" r="2.0" fill="#3b3b80"/>
<circle cx="710.43" cy="1056.24" r="2.0" fill="#3b3b80"/>
<circle cx="730.59" cy="1042.62" r="2.0" fill="#3b3b80"/>
<circle cx="733.99" cy="1076.92" r="2.0" fill="#3b3b80"/>
<circle cx="828.26" cy="1058.07" r="2.0" fill="#3b3b80"/>
<polyline points="986.1,1170.3 998.1,1163.34 1010.1,1000.13 1022.1,1163.34 1034.1,1164.29 1046.1,1164.61 1058.1,1164.92 1070.1,1164.92 1082.1,1164.92 1094.1,1164.92 1106.1,1164.92 1118.1,1164.92 1130.1,1165.24 1142.1,1165.87 1154.1,1165.24 1166.1,1163.97 1178.1,1164.29 1190.1,1165.24 1202.1,1165.87 1214.1,1165.87 1226.1,1165.56 1238.1,1165.24 1250.1,1164.61 1262.1,1164.61 1274.1,1164.92" fill="none" stroke="#000" stroke-width="1.1" stroke-linejoin="round" stroke-linejoin="miter"/>
<line x1="974.1" y1="854" x2="974.1" y2="1170.8" stroke="#2b2b2b" stroke-width="1.1" />
<line x1="973.6" y1="1170.3" x2="1274.1" y2="1170.3" stroke="#2b2b2b" stroke-width="1.1" />
<line x1="974.1" y1="1170.3" x2="977.6" y2="1170.3" stroke="#2b2b2b" stroke-width="1.1" />
<line x1="974.1" y1="1012.15" x2="977.6" y2="1012.15" stroke="#2b2b2b" stroke-width="1.1" />
<line x1="974.1" y1="854" x2="977.6" y2="854" stroke="#2b2b2b" stroke-width="1.1" />
<line x1="974.1" y1="1170.3" x2="974.1" y2="1166.8" stroke="#2b2b2b" stroke-width="1.1" />
<line x1="1034.1" y1="1170.3" x2="1034.1" y2="1166.8" stroke="#2b2b2b" stroke-width="1.1" />
<line x1="1094.1" y1="1170.3" x2="1094.1" y2="1166.8" stroke="#2b2b2b" stroke-width="1.1" />
<line x1="1154.1" y1="1170.3" x2="1154.1" y2="1166.8" stroke="#2b2b2b" stroke-width="1.1" />
<line x1="1214.1" y1="1170.3" x2="1214.1" y2="1166.8" stroke="#2b2b2b" stroke-width="1.1" />
<line x1="1274.1" y1="1170.3" x2="1274.1" y2="1166.8" stroke="#2b2b2b" stroke-width="1.1" />
<text x="967.6" y="862.94" font-size="26" text-anchor="end" fill="#262626" stroke="#262626">1</text>
<text x="967.6" y="1021.1" font-size="26" text-anchor="end" fill="#262626" stroke="#262626">0.5</text>
<text x="967.6" y="1179.25" font-size="26" text-anchor="end" fill="#262626" stroke="#262626">0</text>
<text x="974.1" y="1199.45" font-size="26" text-anchor="middle" fill="#262626" stroke="#262626">0</text>
<text x="1040.6" y="1199.45" font-size="26" text-anchor="middle" fill="#262626" stroke="#262626">0.5</text>
<text x="1094.1" y="1199.44" font-size="26" text-anchor="middle" fill="#262626" stroke="#262626">1</text>
<text x="1160.6" y="1199.32" font-size="26" text-anchor="middle" fill="#262626" stroke="#262626">1.5</text>
<text x="1214.1" y="1199.58" font-size="26" text-anchor="middle" fill="#262626" stroke="#262626">2</text>
<text x="1280.6" y="1199.45" font-size="26" text-anchor="middle" fill="#262626" stroke="#262626">2.5</text>
<text transform="translate(1113.46,884.55) scale(1.0682,1)" font-size="25.74" font-weight="bold" fill="#262626" stroke="#262626">trial 7</text>
<text transform="translate(1058.46,1228.67) scale(0.9059,1)" font-size="26.18" font-weight="normal" fill="#262626" stroke="#262626">frequency (Hz)</text>
<circle cx="1044.28" cy="1066.45" r="2.0" fill="#3b3b80"/>
<circle cx="1044.28" cy="1069.33" r="2.0" fill="#3b3b80"/>
<circle cx="1047.94" cy="1058.86" r="2.0" fill="#3b3b80"/>
<circle cx="1066.27" cy="1080.59" r="2.0" fill="#3b3b80"/>
<circle cx="1066.27" cy="1083.21" r="2.0" fill="#3b3b80"/>
<circle cx="1068.11" cy="1027.7" r="2.0" fill="#3b3b80"/>
<circle cx="1068.11" cy="1032.93" r="2.0" fill="#3b3b80"/>
<circle cx="1068.11" cy="1038.17" r="2.0" fill="#3b3b80"/>
<circle cx="1072.56" cy="1059.38" r="2.0" fill="#3b3b80"/>
<circle cx="1089.84" cy="1066.97" r="2.0" fill="#3b3b80"/>
<circle cx="1091.94" cy="1023.24" r="2.0" fill="#3b3b80"/>
<circle cx="1091.94" cy="1033.72" r="2.0" fill="#3b3b80"/>
<circle cx="1091.94" cy="1056.24" r="2.0" fill="#3b3b80"/>
<circle cx="1097.7" cy="1043.93" r="2.0" fill="#3b3b80"/>
<circle cx="1135.66" cy="1055.19" r="2.0" fill="#3b3b80"/>
<circle cx="1146.92" cy="1025.34" r="2.0" fill="#3b3b80"/>
<text transform="translate(-1.65,1736.4) scale(1.0243,1)" font-size="45.82" font-weight="normal" fill="#000" stroke="#000">h</text>
<text transform="translate(30.31,1952.99) rotate(-90) scale(0.9838,1)" font-size="29.28" font-weight="bold" fill="#262626" stroke="#262626">fictitious CS</text>
<text transform="translate(66.47,1933.39) rotate(-90) scale(1.0282,1)" font-size="29.07" font-weight="bold" fill="#262626" stroke="#262626">(5 - 15 s)</text>
<text transform="translate(116.78,1944.86) rotate(-90) scale(0.9150,1)" font-size="25.64" font-weight="normal" fill="#262626" stroke="#262626">relative power</text>
<polyline points="190.6,2033.6 202.6,2026.65 214.6,1863.7 226.6,2026.65 238.6,2027.6 250.6,2027.92 262.6,2028.23 274.6,2028.23 286.6,2028.23 298.6,2028.23 310.6,2028.23 322.6,2028.23 334.6,2028.55 346.6,2029.18 358.6,2028.55 370.6,2027.28 382.6,2027.6 394.6,2028.55 406.6,2029.18 418.6,2029.18 430.6,2028.86 442.6,2028.55 454.6,2027.92 466.6,2027.92 478.6,2028.23" fill="none" stroke="#000" stroke-width="1.1" stroke-linejoin="round" stroke-linejoin="miter"/>
<line x1="178.6" y1="1717.8" x2="178.6" y2="2034.1" stroke="#2b2b2b" stroke-width="1.1" />
<line x1="178.1" y1="2033.6" x2="478.6" y2="2033.6" stroke="#888" stroke-width="1.5" />
<line x1="178.6" y1="2033.6" x2="182.1" y2="2033.6" stroke="#2b2b2b" stroke-width="1.1" />
<line x1="178.6" y1="1875.7" x2="182.1" y2="1875.7" stroke="#2b2b2b" stroke-width="1.1" />
<line x1="178.6" y1="1717.8" x2="182.1" y2="1717.8" stroke="#2b2b2b" stroke-width="1.1" />
<line x1="178.6" y1="2033.6" x2="178.6" y2="2030.1" stroke="#2b2b2b" stroke-width="1.1" />
<line x1="238.6" y1="2033.6" x2="238.6" y2="2030.1" stroke="#2b2b2b" stroke-width="1.1" />
<line x1="298.6" y1="2033.6" x2="298.6" y2="2030.1" stroke="#2b2b2b" stroke-width="1.1" />
<line x1="358.6" y1="2033.6" x2="358.6" y2="2030.1" stroke="#2b2b2b" stroke-width="1.1" />
<line x1="418.6" y1="2033.6" x2="418.6" y2="2030.1" stroke="#2b2b2b" stroke-width="1.1" />
<line x1="478.6" y1="2033.6" x2="478.6" y2="2030.1" stroke="#2b2b2b" stroke-width="1.1" />
<text x="172.1" y="1726.74" font-size="26" text-anchor="end" fill="#262626" stroke="#262626">1</text>
<text x="172.1" y="1884.65" font-size="26" text-anchor="end" fill="#262626" stroke="#262626">0.5</text>
<text x="172.1" y="2042.55" font-size="26" text-anchor="end" fill="#262626" stroke="#262626">0</text>
<text x="178.6" y="2063.55" font-size="26" text-anchor="middle" fill="#262626" stroke="#262626">0</text>
<text x="245.1" y="2063.55" font-size="26" text-anchor="middle" fill="#262626" stroke="#262626">0.5</text>
<text x="298.6" y="2063.54" font-size="26" text-anchor="middle" fill="#262626" stroke="#262626">1</text>
<text x="365.1" y="2063.42" font-size="26" text-anchor="middle" fill="#262626" stroke="#262626">1.5</text>
<text x="418.6" y="2063.68" font-size="26" text-anchor="middle" fill="#262626" stroke="#262626">2</text>
<text x="485.1" y="2063.55" font-size="26" text-anchor="middle" fill="#262626" stroke="#262626">2.5</text>
<text transform="translate(311.76,1735.05) scale(1.0941,1)" font-size="25.74" font-weight="bold" fill="#262626" stroke="#262626">trial 1</text>
<text transform="translate(260.36,2090.55) scale(0.9725,1)" font-size="24.35" font-weight="normal" fill="#262626" stroke="#262626">frequency (Hz)</text>
<text transform="translate(380.27,2017.75) scale(1.0569,1)" font-size="25.33" font-weight="normal" fill="#262626" stroke="#262626">baseline</text>
<circle cx="237.53" cy="2031.05" r="2.0" fill="#3b3b80"/>
<circle cx="250.31" cy="2031.05" r="2.0" fill="#3b3b80"/>
<circle cx="285.22" cy="2031.05" r="2.0" fill="#3b3b80"/>
<circle cx="344.45" cy="2031.05" r="2.0" fill="#3b3b80"/>
<circle cx="357.86" cy="2031.05" r="2.0" fill="#3b3b80"/>
<polyline points="611.1,2033.6 623.1,2026.65 635.1,1863.7 647.1,2026.65 659.1,2027.6 671.1,2027.92 683.1,2028.23 695.1,2028.23 707.1,2028.23 719.1,2028.23 731.1,2028.23 743.1,2028.23 755.1,2028.55 767.1,2029.18 779.1,2028.55 791.1,2027.28 803.1,2027.6 815.1,2028.55 827.1,2029.18 839.1,2029.18 851.1,2028.86 863.1,2028.55 875.1,2027.92 887.1,2027.92 899.1,2028.23" fill="none" stroke="#000" stroke-width="1.1" stroke-linejoin="round" stroke-linejoin="miter"/>
<line x1="599.1" y1="1717.8" x2="599.1" y2="2034.1" stroke="#2b2b2b" stroke-width="1.1" />
<line x1="598.6" y1="2033.6" x2="899.1" y2="2033.6" stroke="#888" stroke-width="1.5" />
<line x1="599.1" y1="2033.6" x2="602.6" y2="2033.6" stroke="#2b2b2b" stroke-width="1.1" />
<line x1="599.1" y1="1875.7" x2="602.6" y2="1875.7" stroke="#2b2b2b" stroke-width="1.1" />
<line x1="599.1" y1="1717.8" x2="602.6" y2="1717.8" stroke="#2b2b2b" stroke-width="1.1" />
<line x1="599.1" y1="2033.6" x2="599.1" y2="2030.1" stroke="#2b2b2b" stroke-width="1.1" />
<line x1="659.1" y1="2033.6" x2="659.1" y2="2030.1" stroke="#2b2b2b" stroke-width="1.1" />
<line x1="719.1" y1="2033.6" x2="719.1" y2="2030.1" stroke="#2b2b2b" stroke-width="1.1" />
<line x1="779.1" y1="2033.6" x2="779.1" y2="2030.1" stroke="#2b2b2b" stroke-width="1.1" />
<line x1="839.1" y1="2033.6" x2="839.1" y2="2030.1" stroke="#2b2b2b" stroke-width="1.1" />
<line x1="899.1" y1="2033.6" x2="899.1" y2="2030.1" stroke="#2b2b2b" stroke-width="1.1" />
<text x="592.6" y="1726.74" font-size="26" text-anchor="end" fill="#262626" stroke="#262626">1</text>
<text x="592.6" y="1884.65" font-size="26" text-anchor="end" fill="#262626" stroke="#262626">0.5</text>
<text x="592.6" y="2042.55" font-size="26" text-anchor="end" fill="#262626" stroke="#262626">0</text>
<text x="599.1" y="2063.55" font-size="26" text-anchor="middle" fill="#262626" stroke="#262626">0</text>
<text x="665.6" y="2063.55" font-size="26" text-anchor="middle" fill="#262626" stroke="#262626">0.5</text>
<text x="719.1" y="2063.54" font-size="26" text-anchor="middle" fill="#262626" stroke="#262626">1</text>
<text x="785.6" y="2063.42" font-size="26" text-anchor="middle" fill="#262626" stroke="#262626">1.5</text>
<text x="839.1" y="2063.68" font-size="26" text-anchor="middle" fill="#262626" stroke="#262626">2</text>
<text x="905.6" y="2063.55" font-size="26" text-anchor="middle" fill="#262626" stroke="#262626">2.5</text>
<text transform="translate(722.04,1735.05) scale(1.1303,1)" font-size="25.74" font-weight="bold" fill="#262626" stroke="#262626">trial 4</text>
<text transform="translate(677.77,2090.55) scale(0.9624,1)" font-size="24.35" font-weight="normal" fill="#262626" stroke="#262626">frequency (Hz)</text>
<circle cx="658.35" cy="2030.42" r="2.0" fill="#3b3b80"/>
<circle cx="669.89" cy="2030.42" r="2.0" fill="#3b3b80"/>
<circle cx="705.11" cy="2030.42" r="2.0" fill="#3b3b80"/>
<circle cx="729.74" cy="2030.42" r="2.0" fill="#3b3b80"/>
<circle cx="764.96" cy="2030.42" r="2.0" fill="#3b3b80"/>
<circle cx="776.81" cy="2030.42" r="2.0" fill="#3b3b80"/>
<circle cx="824.19" cy="2030.42" r="2.0" fill="#3b3b80"/>
<polyline points="1029.6,2033.6 1041.6,2026.65 1053.6,1863.7 1065.6,2026.65 1077.6,2027.6 1089.6,2027.92 1101.6,2028.23 1113.6,2028.23 1125.6,2028.23 1137.6,2028.23 1149.6,2028.23 1161.6,2028.23 1173.6,2028.55 1185.6,2029.18 1197.6,2028.55 1209.6,2027.28 1221.6,2027.6 1233.6,2028.55 1245.6,2029.18 1257.6,2029.18 1269.6,2028.86 1281.6,2028.55 1293.6,2027.92 1305.6,2027.92 1317.6,2028.23" fill="none" stroke="#000" stroke-width="1.1" stroke-linejoin="round" stroke-linejoin="miter"/>
<line x1="1017.6" y1="1717.8" x2="1017.6" y2="2034.1" stroke="#2b2b2b" stroke-width="1.1" />
<line x1="1017.1" y1="2033.6" x2="1317.6" y2="2033.6" stroke="#888" stroke-width="1.5" />
<line x1="1017.6" y1="2033.6" x2="1021.1" y2="2033.6" stroke="#2b2b2b" stroke-width="1.1" />
<line x1="1017.6" y1="1875.7" x2="1021.1" y2="1875.7" stroke="#2b2b2b" stroke-width="1.1" />
<line x1="1017.6" y1="1717.8" x2="1021.1" y2="1717.8" stroke="#2b2b2b" stroke-width="1.1" />
<line x1="1017.6" y1="2033.6" x2="1017.6" y2="2030.1" stroke="#2b2b2b" stroke-width="1.1" />
<line x1="1077.6" y1="2033.6" x2="1077.6" y2="2030.1" stroke="#2b2b2b" stroke-width="1.1" />
<line x1="1137.6" y1="2033.6" x2="1137.6" y2="2030.1" stroke="#2b2b2b" stroke-width="1.1" />
<line x1="1197.6" y1="2033.6" x2="1197.6" y2="2030.1" stroke="#2b2b2b" stroke-width="1.1" />
<line x1="1257.6" y1="2033.6" x2="1257.6" y2="2030.1" stroke="#2b2b2b" stroke-width="1.1" />
<line x1="1317.6" y1="2033.6" x2="1317.6" y2="2030.1" stroke="#2b2b2b" stroke-width="1.1" />
<text x="1011.1" y="1726.74" font-size="26" text-anchor="end" fill="#262626" stroke="#262626">1</text>
<text x="1011.1" y="1884.65" font-size="26" text-anchor="end" fill="#262626" stroke="#262626">0.5</text>
<text x="1011.1" y="2042.55" font-size="26" text-anchor="end" fill="#262626" stroke="#262626">0</text>
<text x="1017.6" y="2063.55" font-size="26" text-anchor="middle" fill="#262626" stroke="#262626">0</text>
<text x="1084.1" y="2063.55" font-size="26" text-anchor="middle" fill="#262626" stroke="#262626">0.5</text>
<text x="1137.6" y="2063.54" font-size="26" text-anchor="middle" fill="#262626" stroke="#262626">1</text>
<text x="1204.1" y="2063.42" font-size="26" text-anchor="middle" fill="#262626" stroke="#262626">1.5</text>
<text x="1257.6" y="2063.68" font-size="26" text-anchor="middle" fill="#262626" stroke="#262626">2</text>
<text x="1324.1" y="2063.55" font-size="26" text-anchor="middle" fill="#262626" stroke="#262626">2.5</text>
<text transform="translate(1140.56,1735.05) scale(1.0816,1)" font-size="25.74" font-weight="bold" fill="#262626" stroke="#262626">trial 7</text>
<text transform="translate(1093.97,2090.55) scale(0.9674,1)" font-size="24.35" font-weight="normal" fill="#262626" stroke="#262626">frequency (Hz)</text>
<circle cx="1017.57" cy="2034.04" r="2.0" fill="#3b3b80"/>
<circle cx="1100.49" cy="2031.2" r="2.0" fill="#3b3b80"/>
<circle cx="1112.33" cy="2031.2" r="2.0" fill="#3b3b80"/>
<circle cx="1125.13" cy="2031.2" r="2.0" fill="#3b3b80"/>
<circle cx="1147.87" cy="2031.2" r="2.0" fill="#3b3b80"/>
<circle cx="1218.94" cy="2031.2" r="2.0" fill="#3b3b80"/>
<circle cx="1242.4" cy="2031.2" r="2.0" fill="#3b3b80"/>
<circle cx="1278.17" cy="2031.2" r="2.0" fill="#3b3b80"/>
<text transform="translate(-0.94,2145.8) scale(0.9104,1)" font-size="44.99" font-weight="normal" fill="#000" stroke="#000">i</text>
<text transform="translate(31.12,2394.48) rotate(-90) scale(1.0278,1)" font-size="29.29" font-weight="bold" fill="#262626" stroke="#262626">post fictitious</text>
<text transform="translate(66.53,2389.25) rotate(-90) scale(1.0281,1)" font-size="29.72" font-weight="bold" fill="#262626" stroke="#262626">CS (15 - 20 s)</text>
<text transform="translate(117.41,2364.46) rotate(-90) scale(0.9024,1)" font-size="25.96" font-weight="normal" fill="#262626" stroke="#262626">relative power</text>
<polyline points="190.6,2453.7 202.6,2446.74 214.6,2283.48 226.6,2446.74 238.6,2447.69 250.6,2448 262.6,2448.32 274.6,2448.32 286.6,2448.32 298.6,2448.32 310.6,2448.32 322.6,2448.32 334.6,2448.64 346.6,2449.27 358.6,2448.64 370.6,2447.37 382.6,2447.69 394.6,2448.64 406.6,2449.27 418.6,2449.27 430.6,2448.95 442.6,2448.64 454.6,2448 466.6,2448 478.6,2448.32" fill="none" stroke="#000" stroke-width="1.1" stroke-linejoin="round" stroke-linejoin="miter"/>
<line x1="178.6" y1="2137.3" x2="178.6" y2="2454.2" stroke="#2b2b2b" stroke-width="1.1" />
<line x1="178.1" y1="2453.7" x2="478.6" y2="2453.7" stroke="#2b2b2b" stroke-width="1.1" />
<line x1="178.6" y1="2453.7" x2="182.1" y2="2453.7" stroke="#2b2b2b" stroke-width="1.1" />
<line x1="178.6" y1="2295.5" x2="182.1" y2="2295.5" stroke="#2b2b2b" stroke-width="1.1" />
<line x1="178.6" y1="2137.3" x2="182.1" y2="2137.3" stroke="#2b2b2b" stroke-width="1.1" />
<line x1="178.6" y1="2453.7" x2="178.6" y2="2450.2" stroke="#2b2b2b" stroke-width="1.1" />
<line x1="238.6" y1="2453.7" x2="238.6" y2="2450.2" stroke="#2b2b2b" stroke-width="1.1" />
<line x1="298.6" y1="2453.7" x2="298.6" y2="2450.2" stroke="#2b2b2b" stroke-width="1.1" />
<line x1="358.6" y1="2453.7" x2="358.6" y2="2450.2" stroke="#2b2b2b" stroke-width="1.1" />
<line x1="418.6" y1="2453.7" x2="418.6" y2="2450.2" stroke="#2b2b2b" stroke-width="1.1" />
<line x1="478.6" y1="2453.7" x2="478.6" y2="2450.2" stroke="#2b2b2b" stroke-width="1.1" />
<text x="172.1" y="2146.24" font-size="26" text-anchor="end" fill="#262626" stroke="#262626">1</text>
<text x="172.1" y="2304.45" font-size="26" text-anchor="end" fill="#262626" stroke="#262626">0.5</text>
<text x="172.1" y="2462.65" font-size="26" text-anchor="end" fill="#262626" stroke="#262626">0</text>
<text x="178.6" y="2482.95" font-size="26" text-anchor="middle" fill="#262626" stroke="#262626">0</text>
<text x="245.1" y="2482.95" font-size="26" text-anchor="middle" fill="#262626" stroke="#262626">0.5</text>
<text x="298.6" y="2482.94" font-size="26" text-anchor="middle" fill="#262626" stroke="#262626">1</text>
<text x="365.1" y="2482.82" font-size="26" text-anchor="middle" fill="#262626" stroke="#262626">1.5</text>
<text x="418.6" y="2483.08" font-size="26" text-anchor="middle" fill="#262626" stroke="#262626">2</text>
<text x="485.1" y="2482.95" font-size="26" text-anchor="middle" fill="#262626" stroke="#262626">2.5</text>
<text transform="translate(308.65,2153.55) scale(1.1237,1)" font-size="25.6" font-weight="bold" fill="#262626" stroke="#262626">trial 1</text>
<text transform="translate(258.76,2513.77) scale(1.0173,1)" font-size="23.28" font-weight="normal" fill="#262626" stroke="#262626">frequency (Hz)</text>
<circle cx="224.44" cy="2448.22" r="2.0" fill="#3b3b80"/>
<circle cx="251.87" cy="2448.22" r="2.0" fill="#3b3b80"/>
<circle cx="299.88" cy="2447.59" r="2.0" fill="#3b3b80"/>
<circle cx="300.81" cy="2447.59" r="2.0" fill="#3b3b80"/>
<circle cx="343.83" cy="2448.22" r="2.0" fill="#3b3b80"/>
<circle cx="350.06" cy="2448.22" r="2.0" fill="#3b3b80"/>
<circle cx="398.38" cy="2447.59" r="2.0" fill="#3b3b80"/>
<circle cx="472.26" cy="2446.66" r="2.0" fill="#3b3b80"/>
<polyline points="611.1,2453.7 623.1,2446.74 635.1,2283.48 647.1,2446.74 659.1,2447.69 671.1,2448 683.1,2448.32 695.1,2448.32 707.1,2448.32 719.1,2448.32 731.1,2448.32 743.1,2448.32 755.1,2448.64 767.1,2449.27 779.1,2448.64 791.1,2447.37 803.1,2447.69 815.1,2448.64 827.1,2449.27 839.1,2449.27 851.1,2448.95 863.1,2448.64 875.1,2448 887.1,2448 899.1,2448.32" fill="none" stroke="#000" stroke-width="1.1" stroke-linejoin="round" stroke-linejoin="miter"/>
<line x1="599.1" y1="2137.3" x2="599.1" y2="2454.2" stroke="#2b2b2b" stroke-width="1.1" />
<line x1="598.6" y1="2453.7" x2="899.1" y2="2453.7" stroke="#2b2b2b" stroke-width="1.1" />
<line x1="599.1" y1="2453.7" x2="602.6" y2="2453.7" stroke="#2b2b2b" stroke-width="1.1" />
<line x1="599.1" y1="2295.5" x2="602.6" y2="2295.5" stroke="#2b2b2b" stroke-width="1.1" />
<line x1="599.1" y1="2137.3" x2="602.6" y2="2137.3" stroke="#2b2b2b" stroke-width="1.1" />
<line x1="599.1" y1="2453.7" x2="599.1" y2="2450.2" stroke="#2b2b2b" stroke-width="1.1" />
<line x1="659.1" y1="2453.7" x2="659.1" y2="2450.2" stroke="#2b2b2b" stroke-width="1.1" />
<line x1="719.1" y1="2453.7" x2="719.1" y2="2450.2" stroke="#2b2b2b" stroke-width="1.1" />
<line x1="779.1" y1="2453.7" x2="779.1" y2="2450.2" stroke="#2b2b2b" stroke-width="1.1" />
<line x1="839.1" y1="2453.7" x2="839.1" y2="2450.2" stroke="#2b2b2b" stroke-width="1.1" />
<line x1="899.1" y1="2453.7" x2="899.1" y2="2450.2" stroke="#2b2b2b" stroke-width="1.1" />
<text x="592.6" y="2146.24" font-size="26" text-anchor="end" fill="#262626" stroke="#262626">1</text>
<text x="592.6" y="2304.45" font-size="26" text-anchor="end" fill="#262626" stroke="#262626">0.5</text>
<text x="592.6" y="2462.65" font-size="26" text-anchor="end" fill="#262626" stroke="#262626">0</text>
<text x="599.1" y="2482.95" font-size="26" text-anchor="middle" fill="#262626" stroke="#262626">0</text>
<text x="665.6" y="2482.95" font-size="26" text-anchor="middle" fill="#262626" stroke="#262626">0.5</text>
<text x="719.1" y="2482.94" font-size="26" text-anchor="middle" fill="#262626" stroke="#262626">1</text>
<text x="785.6" y="2482.82" font-size="26" text-anchor="middle" fill="#262626" stroke="#262626">1.5</text>
<text x="839.1" y="2483.08" font-size="26" text-anchor="middle" fill="#262626" stroke="#262626">2</text>
<text x="905.6" y="2482.95" font-size="26" text-anchor="middle" fill="#262626" stroke="#262626">2.5</text>
<text transform="translate(718.24,2153.55) scale(1.1599,1)" font-size="25.6" font-weight="bold" fill="#262626" stroke="#262626">trial 4</text>
<text transform="translate(672.07,2513.77) scale(1.0133,1)" font-size="23.28" font-weight="normal" fill="#262626" stroke="#262626">frequency (Hz)</text>
<circle cx="644.95" cy="2448.22" r="2.0" fill="#3b3b80"/>
<circle cx="696.38" cy="2448.22" r="2.0" fill="#3b3b80"/>
<circle cx="745.64" cy="2448.22" r="2.0" fill="#3b3b80"/>
<circle cx="794.58" cy="2448.22" r="2.0" fill="#3b3b80"/>
<circle cx="835.1" cy="2446.03" r="2.0" fill="#3b3b80"/>
<circle cx="892.14" cy="2447.28" r="2.0" fill="#3b3b80"/>
<polyline points="1029.6,2453.7 1041.6,2446.74 1053.6,2283.48 1065.6,2446.74 1077.6,2447.69 1089.6,2448 1101.6,2448.32 1113.6,2448.32 1125.6,2448.32 1137.6,2448.32 1149.6,2448.32 1161.6,2448.32 1173.6,2448.64 1185.6,2449.27 1197.6,2448.64 1209.6,2447.37 1221.6,2447.69 1233.6,2448.64 1245.6,2449.27 1257.6,2449.27 1269.6,2448.95 1281.6,2448.64 1293.6,2448 1305.6,2448 1317.6,2448.32" fill="none" stroke="#000" stroke-width="1.1" stroke-linejoin="round" stroke-linejoin="miter"/>
<line x1="1017.6" y1="2137.3" x2="1017.6" y2="2454.2" stroke="#2b2b2b" stroke-width="1.1" />
<line x1="1017.1" y1="2453.7" x2="1317.6" y2="2453.7" stroke="#2b2b2b" stroke-width="1.1" />
<line x1="1017.6" y1="2453.7" x2="1021.1" y2="2453.7" stroke="#2b2b2b" stroke-width="1.1" />
<line x1="1017.6" y1="2295.5" x2="1021.1" y2="2295.5" stroke="#2b2b2b" stroke-width="1.1" />
<line x1="1017.6" y1="2137.3" x2="1021.1" y2="2137.3" stroke="#2b2b2b" stroke-width="1.1" />
<line x1="1017.6" y1="2453.7" x2="1017.6" y2="2450.2" stroke="#2b2b2b" stroke-width="1.1" />
<line x1="1077.6" y1="2453.7" x2="1077.6" y2="2450.2" stroke="#2b2b2b" stroke-width="1.1" />
<line x1="1137.6" y1="2453.7" x2="1137.6" y2="2450.2" stroke="#2b2b2b" stroke-width="1.1" />
<line x1="1197.6" y1="2453.7" x2="1197.6" y2="2450.2" stroke="#2b2b2b" stroke-width="1.1" />
<line x1="1257.6" y1="2453.7" x2="1257.6" y2="2450.2" stroke="#2b2b2b" stroke-width="1.1" />
<line x1="1317.6" y1="2453.7" x2="1317.6" y2="2450.2" stroke="#2b2b2b" stroke-width="1.1" />
<text x="1011.1" y="2146.24" font-size="26" text-anchor="end" fill="#262626" stroke="#262626">1</text>
<text x="1011.1" y="2304.45" font-size="26" text-anchor="end" fill="#262626" stroke="#262626">0.5</text>
<text x="1011.1" y="2462.65" font-size="26" text-anchor="end" fill="#262626" stroke="#262626">0</text>
<text x="1017.6" y="2482.95" font-size="26" text-anchor="middle" fill="#262626" stroke="#262626">0</text>
<text x="1084.1" y="2482.95" font-size="26" text-anchor="middle" fill="#262626" stroke="#262626">0.5</text>
<text x="1137.6" y="2482.94" font-size="26" text-anchor="middle" fill="#262626" stroke="#262626">1</text>
<text x="1204.1" y="2482.82" font-size="26" text-anchor="middle" fill="#262626" stroke="#262626">1.5</text>
<text x="1257.6" y="2483.08" font-size="26" text-anchor="middle" fill="#262626" stroke="#262626">2</text>
<text x="1324.1" y="2482.95" font-size="26" text-anchor="middle" fill="#262626" stroke="#262626">2.5</text>
<text transform="translate(1137.26,2153.55) scale(1.0768,1)" font-size="25.6" font-weight="bold" fill="#262626" stroke="#262626">trial 7</text>
<text transform="translate(1091.57,2513.77) scale(1.0120,1)" font-size="23.28" font-weight="normal" fill="#262626" stroke="#262626">frequency (Hz)</text>
<circle cx="1017.57" cy="2453.52" r="2.0" fill="#3b3b80"/>
<circle cx="1090.54" cy="2446.89" r="2.0" fill="#3b3b80"/>
<circle cx="1115.18" cy="2449.26" r="2.0" fill="#3b3b80"/>
<circle cx="1182.7" cy="2449.97" r="2.0" fill="#3b3b80"/>
<circle cx="1188.62" cy="2448.31" r="2.0" fill="#3b3b80"/>
<circle cx="1249.5" cy="2449.26" r="2.0" fill="#3b3b80"/>
<circle cx="1286.46" cy="2449.26" r="2.0" fill="#3b3b80"/>
<text transform="translate(-2.54,1300.67) scale(0.9689,1)" font-size="50.26" font-weight="normal" fill="#000" stroke="#000">g</text>
<line x1="110.7" y1="1277" x2="110.7" y2="1616.6" stroke="#3c3c3c" stroke-width="3.3" />
<polygon points="95.1,1611 110.7,1615.6 126.3,1611 110.7,1638.7" fill="#3c3c3c"/>
<text transform="translate(89.79,1546.9) rotate(-90) scale(1.0733,1)" font-size="30.9" font-weight="normal" fill="#262626" stroke="#262626">training trials</text>
<text transform="translate(125.71,1348.4) scale(0.8130,1)" font-size="30.52" font-weight="normal" fill="#262626" stroke="#262626">1</text>
<text transform="translate(125.23,1463.8) scale(1.1053,1)" font-size="30.52" font-weight="normal" fill="#262626" stroke="#262626">4</text>
<text transform="translate(124.75,1579.1) scale(1.1819,1)" font-size="30.52" font-weight="normal" fill="#262626" stroke="#262626">7</text>
<text transform="translate(217.48,1499.22) rotate(-90) scale(1.0947,1)" font-size="24.26" font-weight="normal" fill="#262626" stroke="#262626">dF/F (%)</text>
<rect x="523.7" y="1279.7" width="5.95" height="106.9" fill="#fcebe5" />
<rect x="523.7" y="1395" width="5.95" height="106.9" fill="#fcebe5" />
<rect x="523.7" y="1510" width="5.95" height="107.1" fill="#fcebe5" />
<polyline points="287.24,1369.95 290.61,1366.36 295.1,1364.78 298.46,1369.95 301.83,1367.7 306.32,1369.95 310.81,1374.43 315.3,1369.27 320.91,1368.6 324.27,1367.03 328.76,1369.27 332.13,1371.52 336.62,1364.78 339.98,1365.46 344.47,1369.27 350.08,1374.88 353.45,1373.76 356.81,1370.84 361.3,1369.95 365.79,1368.6 370.28,1371.52 377.01,1374.43 381.5,1373.76 387.11,1368.6 390.48,1371.52 394.52,1378.25 398.33,1373.76 403.94,1371.52 407.31,1367.03 410.67,1365.46 415.16,1368.15 419.65,1373.76 424.14,1372.64 430.87,1369.95 437.6,1369.95 440.97,1371.52 444.78,1377.8 451.07,1364.11 455.56,1369.27 461.17,1376.68 464.53,1376.01 470.14,1360.3 474.63,1359.17 479.12,1364.11 484.73,1364.78 490.34,1368.6 494.83,1370.39 499.32,1369.27 503.81,1371.07 507.17,1368.15 511.66,1371.52 516.15,1368.6 521.76,1368.15 527.37,1368.6 531.86,1367.7 538.59,1364.78 545.32,1368.6 552.06,1365.91 557.67,1365.46 562.15,1368.6 568.89,1364.11 574.5,1369.27 580.11,1370.39 584.6,1372.64 590.21,1365.91 594.69,1364.78 599.18,1368.15 603.67,1368.6 608.16,1363.66 614.89,1362.54 620.5,1363.21 626.11,1368.6 631.72,1365.46 637.33,1365.91 640,1365.91 642.69,1367.7 645.61,1365.46 650.1,1371.52 653.91,1374.88 657.95,1364.78 662.44,1366.36 666.93,1367.7 671.42,1368.15 675.91,1370.39 680.39,1371.52 684.88,1366.36 688.25,1363.66 692.74,1369.95 697.23,1368.15 701.71,1363.21 706.2,1361.42 711.81,1366.36 717.42,1370.84 723.03,1366.36 728.64,1368.6 734.25,1368.15 738.74,1366.36 743.23,1368.6 747.27,1374.88 752.21,1369.95 756.7,1372.64 762.31,1369.27 766.8,1364.11 771.28,1360.97 776.89,1362.54 781.38,1365.46 784.75,1364.78 789.24,1369.95 793.73,1367.7 799.34,1366.36 802.7,1368.15 807.19,1364.78 809.43,1363.66 813.92,1368.6 818.41,1370.84 822.9,1375.56 827.39,1370.39 830.75,1368.6 834.12,1373.76 838.61,1369.27 843.1,1373.76 847.59,1367.7 850.95,1364.78 855.44,1371.52 862.17,1370.39 866.66,1369.95 871.15,1373.76 876.76,1370.39 882.37,1367.03 886.86,1368.15 890.22,1373.09 894.71,1362.54 899.2,1359.17 904.81,1360.3 909.3,1363.21 913.79,1367.7 919.4,1369.27 923.89,1365.91 928.38,1367.03 931.74,1374.43 936.23,1371.52 940.72,1365.46 944.08,1365.91 946.33,1370.39 950.82,1376.01 955.31,1371.52 958.67,1369.95 963.16,1368.15 967.65,1365.91 972.14,1371.52 976.62,1372.19 981.11,1370.84 986.72,1372.19 990.09,1370.39 994.58,1374.43 999.07,1363.21" fill="none" stroke="#2f649c" stroke-width="1.9" stroke-linejoin="round" />
<line x1="285.7" y1="1279.7" x2="285.7" y2="1387.2" stroke="#2b2b2b" stroke-width="1.3" />
<line x1="285.1" y1="1386.6" x2="999.7" y2="1386.6" stroke="#777777" stroke-width="1.6" />
<line x1="285.7" y1="1279.7" x2="293.2" y2="1279.7" stroke="#2b2b2b" stroke-width="1.3" />
<line x1="285.7" y1="1380.3" x2="293.2" y2="1380.3" stroke="#2b2b2b" stroke-width="1.3" />
<text transform="translate(250.21,1295.25) scale(1.0558,1)" font-size="25.65" font-weight="normal" fill="#262626" stroke="#262626">75</text>
<text transform="translate(261.52,1385.96) scale(1.0098,1)" font-size="24.86" font-weight="normal" fill="#262626" stroke="#262626">0</text>
<polyline points="287.24,1480.46 290.61,1476.87 293.98,1474.62 297.34,1478.66 301.16,1485.39 304.08,1479.11 307.44,1478.66 310.81,1483.6 314.17,1484.95 318.66,1479.11 322.03,1481.36 327.64,1490.56 332.13,1483.6 336.17,1476.87 340.66,1479.78 344.47,1479.78 347.84,1478.66 352.32,1484.27 356.36,1486.52 360.18,1481.36 364.67,1489.88 367.59,1493.92 371.4,1486.52 375.89,1479.11 380.38,1482.03 384.87,1484.95 388.23,1479.78 392.72,1483.6 397.21,1485.39 400.57,1485.84 403.94,1489.88 407.98,1493.25 411.8,1486.52 417.41,1480.46 421.89,1482.03 426.38,1485.84 431.99,1488.09 435.36,1486.52 439.85,1482.7 443.21,1484.27 446.58,1491.01 450.62,1493.92 454.43,1488.76 457.8,1485.84 463.41,1489.88 467.9,1479.11 471.27,1479.78 475.75,1478.21 479.12,1479.78 482.49,1478.21 486.97,1480.91 490.34,1483.6 494.83,1482.7 498.2,1478.21 502.68,1477.54 506.05,1481.36 509.42,1482.7 512.78,1481.36 515.03,1475.97 519.52,1479.78 524,1482.7 528.49,1483.6 532.98,1482.03 536.35,1487.19 539.71,1488.76 545.32,1479.11 549.81,1478.66 554.3,1480.46 558.79,1483.6 562.15,1482.03 566.64,1479.78 570.01,1475.3 575.62,1475.97 577.86,1482.7 582.35,1482.03 587.96,1483.15 593.57,1484.95 596.94,1482.03 601.43,1478.66 605.92,1480.46 610.4,1485.39 614.89,1480.91 619.38,1482.7 623.87,1485.84 628.36,1482.7 635.09,1481.36 638.46,1483.6 640,1483.6 643.37,1485.39 646.73,1478.21 651.67,1475.97 656.83,1480.91 661.99,1487.19 665.81,1481.36 670.3,1475.3 674.78,1481.36 680.39,1480.91 686.01,1477.54 690.49,1480.46 694.98,1480.91 700.59,1487.64 706.2,1479.11 709.57,1480.46 715.18,1485.84 718.55,1484.27 724.16,1477.54 728.64,1480.46 733.13,1482.03 736.5,1479.78 740.99,1482.03 747.72,1484.27 752.21,1483.6 756.7,1486.52 761.18,1487.19 764.55,1479.11 769.04,1484.95 772.41,1485.84 776.89,1478.66 780.26,1479.78 784.75,1486.52 789.24,1479.78 793.73,1475.97 798.21,1482.03 804.95,1481.36 809.43,1483.15 813.92,1484.95 818.41,1478.66 822.9,1476.87 827.39,1483.15 832.55,1491.68 837.49,1488.76 843.1,1481.36 848.71,1484.27 855.44,1473.73 861.05,1483.15 864.42,1482.03 868.9,1480.91 873.39,1484.27 877.88,1488.09 882.37,1483.15 886.86,1481.36 893.59,1478.66 899.2,1482.03 904.81,1478.21 910.42,1477.54 916.03,1475.97 920.52,1478.21 926.13,1485.84 931.74,1479.11 936.23,1483.15 940.72,1487.19 945.21,1485.39 950.82,1479.78 954.18,1480.91 958.67,1486.52 963.16,1484.95 967.65,1485.84 972.14,1482.7 976.62,1484.95 981.11,1480.91 985.6,1483.6 992.33,1479.11 995.7,1480.46 999.07,1479.11" fill="none" stroke="#2f649c" stroke-width="1.9" stroke-linejoin="round" />
<line x1="285.7" y1="1395" x2="285.7" y2="1502.5" stroke="#2b2b2b" stroke-width="1.3" />
<line x1="285.1" y1="1501.9" x2="999.7" y2="1501.9" stroke="#777777" stroke-width="1.6" />
<line x1="285.7" y1="1395" x2="293.2" y2="1395" stroke="#2b2b2b" stroke-width="1.3" />
<line x1="285.7" y1="1495.3" x2="293.2" y2="1495.3" stroke="#2b2b2b" stroke-width="1.3" />
<text transform="translate(250.21,1410.55) scale(1.0558,1)" font-size="25.65" font-weight="normal" fill="#262626" stroke="#262626">75</text>
<text transform="translate(261.52,1500.96) scale(1.0098,1)" font-size="24.86" font-weight="normal" fill="#262626" stroke="#262626">0</text>
<polyline points="287.24,1594.78 291.73,1597.7 296.22,1596.36 300.71,1595.91 304.08,1595.46 307.44,1597.7 311.93,1596.36 315.97,1590.3 319.78,1594.78 324.95,1606.01 329.88,1602.19 335.49,1595.91 339.98,1598.6 346.71,1594.11 352.32,1598.6 356.81,1599.95 361.3,1604.43 368.03,1606.01 374.77,1607.13 379.25,1610.49 383.74,1602.64 388.23,1596.36 392.72,1598.6 397.21,1600.84 401.7,1602.19 408.43,1598.15 412.92,1601.52 417.41,1606.68 423.02,1600.84 428.63,1601.52 433.11,1602.64 439.85,1600.84 446.58,1604.43 453.31,1599.95 457.8,1603.76 461.17,1606.68 464.53,1601.52 469.02,1596.36 474.63,1598.15 480.24,1599.27 483.61,1600.39 488.1,1599.95 493.71,1599.27 499.32,1598.15 503.81,1600.84 508.29,1602.64 511.66,1597.03 516.15,1595.46 519.52,1600.39 524,1600.84 527.37,1599.95 531.86,1606.01 537.47,1599.95 541.96,1595.91 545.32,1601.52 549.81,1592.54 554.3,1588.73 557.67,1593.66 562.15,1599.95 567.76,1601.52 573.38,1604.43 576.74,1602.64 581.23,1601.52 585.72,1602.64 591.33,1603.09 595.82,1604.88 599.18,1602.64 603.67,1597.03 608.16,1595.46 612.65,1600.84 616.01,1603.76 619.38,1602.64 623.87,1597.7 628.36,1599.95 635.09,1599.27 639.58,1598.6 640,1599.27 643.37,1602.64 646.73,1601.52 651.22,1595.91 653.91,1597.7 656.83,1606.01 661.32,1600.84 665.81,1597.03 670.3,1597.7 674.78,1599.27 677.03,1601.52 680.39,1599.95 683.76,1601.52 687.13,1598.6 691.62,1599.27 696.1,1603.09 700.59,1604.88 705.08,1601.52 708.45,1597.03 711.81,1601.52 717.42,1606.01 721.91,1603.76 726.4,1599.27 730.89,1598.6 734.25,1601.52 738.74,1597.03 742.11,1595.46 746.6,1600.39 749.96,1599.27 754.45,1594.11 760.06,1600.39 764.55,1595.91 769.04,1597.7 773.53,1593.66 778.02,1589.62 782.5,1593.66 786.99,1598.15 790.36,1602.64 794.85,1602.19 798.21,1601.52 800.46,1604.88 803.82,1600.39 808.31,1599.95 811.68,1597.7 815.04,1600.39 819.53,1598.6 822.9,1597.7 827.39,1595.46 831.88,1598.15 837.49,1602.64 841.97,1603.76 845.34,1600.39 849.83,1598.15 854.32,1600.39 857.68,1603.76 862.17,1599.95 865.54,1593.66 871.15,1598.15 875.64,1589.17 879,1589.62 882.37,1593.66 886.86,1599.27 890.22,1600.39 893.59,1602.19 898.08,1599.27 902.57,1598.6 908.18,1600.84 912.67,1598.6 917.15,1595.46 920.52,1600.39 923.89,1606.68 928.38,1603.76 933.99,1599.27 937.35,1597.03 941.84,1600.39 946.33,1604.43 950.82,1600.84 954.18,1602.64 958.67,1601.52 964.28,1596.36 967.65,1599.95 972.14,1599.27 976.62,1596.36 978.87,1599.27 983.36,1596.36 987.85,1595.46 992.33,1597.7 996.82,1597.7 999.07,1598.6" fill="none" stroke="#2f649c" stroke-width="1.9" stroke-linejoin="round" />
<line x1="285.7" y1="1510" x2="285.7" y2="1617.7" stroke="#2b2b2b" stroke-width="1.3" />
<line x1="285.1" y1="1617.1" x2="999.7" y2="1617.1" stroke="#2b2b2b" stroke-width="1.3" />
<line x1="285.7" y1="1510" x2="293.2" y2="1510" stroke="#2b2b2b" stroke-width="1.3" />
<line x1="285.7" y1="1610.3" x2="293.2" y2="1610.3" stroke="#2b2b2b" stroke-width="1.3" />
<text transform="translate(250.21,1525.55) scale(1.0558,1)" font-size="25.65" font-weight="normal" fill="#262626" stroke="#262626">75</text>
<text transform="translate(261.52,1615.96) scale(1.0098,1)" font-size="24.86" font-weight="normal" fill="#262626" stroke="#262626">0</text>
<line x1="285.7" y1="1617.1" x2="285.7" y2="1609.6" stroke="#2b2b2b" stroke-width="1.3" />
<text x="278.58" y="1648.61" font-size="25.6" font-weight="normal" fill="#262626" stroke="#262626">0</text>
<line x1="345.2" y1="1617.1" x2="345.2" y2="1609.6" stroke="#2b2b2b" stroke-width="1.3" />
<text x="338.11" y="1648.48" font-size="25.6" font-weight="normal" fill="#262626" stroke="#262626">5</text>
<line x1="404.7" y1="1617.1" x2="404.7" y2="1609.6" stroke="#2b2b2b" stroke-width="1.3" />
<text x="389.99" y="1648.61" font-size="25.6" font-weight="normal" fill="#262626" stroke="#262626">10</text>
<line x1="464.2" y1="1617.1" x2="464.2" y2="1609.6" stroke="#2b2b2b" stroke-width="1.3" />
<text x="449.52" y="1648.48" font-size="25.6" font-weight="normal" fill="#262626" stroke="#262626">15</text>
<line x1="523.7" y1="1617.1" x2="523.7" y2="1609.6" stroke="#2b2b2b" stroke-width="1.3" />
<text x="509.32" y="1648.61" font-size="25.6" font-weight="normal" fill="#262626" stroke="#262626">20</text>
<line x1="583.2" y1="1617.1" x2="583.2" y2="1609.6" stroke="#2b2b2b" stroke-width="1.3" />
<text x="568.86" y="1648.61" font-size="25.6" font-weight="normal" fill="#262626" stroke="#262626">25</text>
<line x1="642.7" y1="1617.1" x2="642.7" y2="1609.6" stroke="#2b2b2b" stroke-width="1.3" />
<text x="628.48" y="1648.61" font-size="25.6" font-weight="normal" fill="#262626" stroke="#262626">30</text>
<line x1="702.2" y1="1617.1" x2="702.2" y2="1609.6" stroke="#2b2b2b" stroke-width="1.3" />
<text x="688.01" y="1648.61" font-size="25.6" font-weight="normal" fill="#262626" stroke="#262626">35</text>
<line x1="761.7" y1="1617.1" x2="761.7" y2="1609.6" stroke="#2b2b2b" stroke-width="1.3" />
<text x="747.67" y="1648.61" font-size="25.6" font-weight="normal" fill="#262626" stroke="#262626">40</text>
<line x1="821.2" y1="1617.1" x2="821.2" y2="1609.6" stroke="#2b2b2b" stroke-width="1.3" />
<text x="807.21" y="1648.48" font-size="25.6" font-weight="normal" fill="#262626" stroke="#262626">45</text>
<line x1="880.7" y1="1617.1" x2="880.7" y2="1609.6" stroke="#2b2b2b" stroke-width="1.3" />
<text x="866.45" y="1648.61" font-size="25.6" font-weight="normal" fill="#262626" stroke="#262626">50</text>
<line x1="940.2" y1="1617.1" x2="940.2" y2="1609.6" stroke="#2b2b2b" stroke-width="1.3" />
<text x="925.99" y="1648.48" font-size="25.6" font-weight="normal" fill="#262626" stroke="#262626">55</text>
<line x1="999.7" y1="1617.1" x2="999.7" y2="1609.6" stroke="#2b2b2b" stroke-width="1.3" />
<text x="985.31" y="1648.61" font-size="25.6" font-weight="normal" fill="#262626" stroke="#262626">60</text>
<text transform="translate(598.5,1684.36) scale(1.1249,1)" font-size="23.4" font-weight="normal" fill="#262626" stroke="#262626">time (s)</text>
<rect x="929" y="1280.5" width="24.4" height="24.1" fill="#f9cdb9" />
<text transform="translate(956,1302.35) scale(1.0485,1)" font-size="25.99" font-weight="normal" fill="#262626" stroke="#262626">US</text>
</svg></body></html>
